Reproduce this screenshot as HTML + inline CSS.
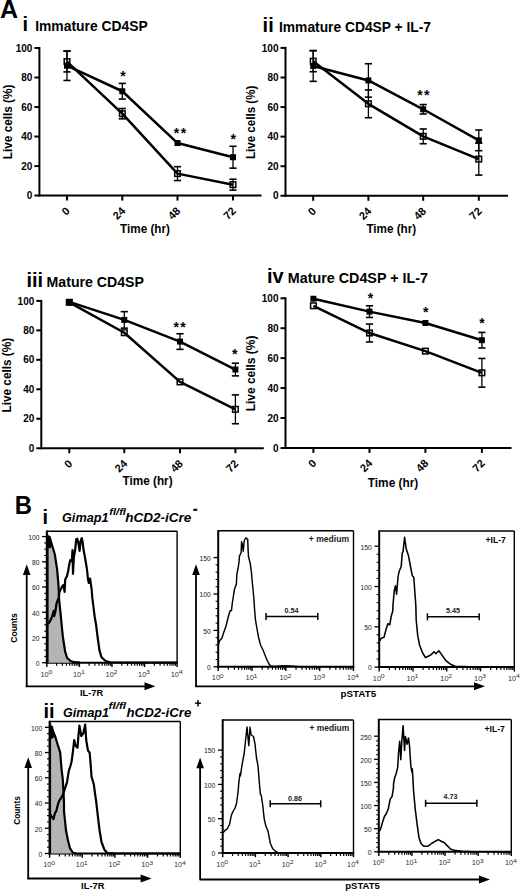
<!DOCTYPE html>
<html><head><meta charset="utf-8"><style>
html,body{margin:0;padding:0;background:#fff;overflow:hidden;}
svg{display:block;}
text{font-family:"Liberation Sans",sans-serif;}
</style></head><body>
<svg width="520" height="892" viewBox="0 0 520 892">
<rect width="520" height="892" fill="#fff"/>
<g font-family="Liberation Sans, sans-serif">
<text x="0.00" y="17.50" font-size="25" font-weight="bold">A</text>
<line x1="39.40" y1="47.00" x2="39.40" y2="196.60" stroke="#000" stroke-width="2" stroke-linecap="butt"/>
<line x1="34.40" y1="195.60" x2="261.50" y2="195.60" stroke="#000" stroke-width="2" stroke-linecap="butt"/>
<text x="32.40" y="199.20" font-size="10" font-weight="bold" text-anchor="end">0</text>
<line x1="34.40" y1="166.08" x2="39.40" y2="166.08" stroke="#000" stroke-width="2" stroke-linecap="butt"/>
<text x="32.40" y="169.68" font-size="10" font-weight="bold" text-anchor="end">20</text>
<line x1="34.40" y1="136.56" x2="39.40" y2="136.56" stroke="#000" stroke-width="2" stroke-linecap="butt"/>
<text x="32.40" y="140.16" font-size="10" font-weight="bold" text-anchor="end">40</text>
<line x1="34.40" y1="107.04" x2="39.40" y2="107.04" stroke="#000" stroke-width="2" stroke-linecap="butt"/>
<text x="32.40" y="110.64" font-size="10" font-weight="bold" text-anchor="end">60</text>
<line x1="34.40" y1="77.52" x2="39.40" y2="77.52" stroke="#000" stroke-width="2" stroke-linecap="butt"/>
<text x="32.40" y="81.12" font-size="10" font-weight="bold" text-anchor="end">80</text>
<line x1="34.40" y1="48.00" x2="39.40" y2="48.00" stroke="#000" stroke-width="2" stroke-linecap="butt"/>
<text x="32.40" y="51.60" font-size="10" font-weight="bold" text-anchor="end">100</text>
<line x1="67.00" y1="195.60" x2="67.00" y2="200.60" stroke="#000" stroke-width="2" stroke-linecap="butt"/>
<text x="0" y="0" font-size="11" font-weight="bold" text-anchor="end" transform="translate(70.70,211.70) rotate(-45)">0</text>
<line x1="122.30" y1="195.60" x2="122.30" y2="200.60" stroke="#000" stroke-width="2" stroke-linecap="butt"/>
<text x="0" y="0" font-size="11" font-weight="bold" text-anchor="end" transform="translate(126.00,211.70) rotate(-45)">24</text>
<line x1="177.50" y1="195.60" x2="177.50" y2="200.60" stroke="#000" stroke-width="2" stroke-linecap="butt"/>
<text x="0" y="0" font-size="11" font-weight="bold" text-anchor="end" transform="translate(181.20,211.70) rotate(-45)">48</text>
<line x1="233.00" y1="195.60" x2="233.00" y2="200.60" stroke="#000" stroke-width="2" stroke-linecap="butt"/>
<text x="0" y="0" font-size="11" font-weight="bold" text-anchor="end" transform="translate(236.70,211.70) rotate(-45)">72</text>
<path d="M67.00,65.71 L122.30,91.25 L177.50,143.05 L233.00,157.22" stroke="#000" stroke-width="2.5" fill="none" stroke-linejoin="round"/>
<path d="M67.00,61.58 L122.30,113.68 L177.50,173.61 L233.00,184.68" stroke="#000" stroke-width="2.5" fill="none" stroke-linejoin="round"/>
<line x1="67.00" y1="50.95" x2="67.00" y2="80.47" stroke="#000" stroke-width="1.3" stroke-linecap="butt"/>
<line x1="63.40" y1="50.95" x2="70.60" y2="50.95" stroke="#000" stroke-width="1.6" stroke-linecap="butt"/>
<line x1="63.40" y1="80.47" x2="70.60" y2="80.47" stroke="#000" stroke-width="1.6" stroke-linecap="butt"/>
<line x1="122.30" y1="83.42" x2="122.30" y2="99.07" stroke="#000" stroke-width="1.3" stroke-linecap="butt"/>
<line x1="118.70" y1="83.42" x2="125.90" y2="83.42" stroke="#000" stroke-width="1.6" stroke-linecap="butt"/>
<line x1="118.70" y1="99.07" x2="125.90" y2="99.07" stroke="#000" stroke-width="1.6" stroke-linecap="butt"/>
<line x1="233.00" y1="146.30" x2="233.00" y2="168.15" stroke="#000" stroke-width="1.3" stroke-linecap="butt"/>
<line x1="229.40" y1="146.30" x2="236.60" y2="146.30" stroke="#000" stroke-width="1.6" stroke-linecap="butt"/>
<line x1="229.40" y1="168.15" x2="236.60" y2="168.15" stroke="#000" stroke-width="1.6" stroke-linecap="butt"/>
<line x1="67.00" y1="51.25" x2="67.00" y2="71.91" stroke="#000" stroke-width="1.3" stroke-linecap="butt"/>
<line x1="63.40" y1="51.25" x2="70.60" y2="51.25" stroke="#000" stroke-width="1.6" stroke-linecap="butt"/>
<line x1="63.40" y1="71.91" x2="70.60" y2="71.91" stroke="#000" stroke-width="1.6" stroke-linecap="butt"/>
<line x1="122.30" y1="108.52" x2="122.30" y2="118.85" stroke="#000" stroke-width="1.3" stroke-linecap="butt"/>
<line x1="118.70" y1="108.52" x2="125.90" y2="108.52" stroke="#000" stroke-width="1.6" stroke-linecap="butt"/>
<line x1="118.70" y1="118.85" x2="125.90" y2="118.85" stroke="#000" stroke-width="1.6" stroke-linecap="butt"/>
<line x1="177.50" y1="166.67" x2="177.50" y2="180.54" stroke="#000" stroke-width="1.3" stroke-linecap="butt"/>
<line x1="173.90" y1="166.67" x2="181.10" y2="166.67" stroke="#000" stroke-width="1.6" stroke-linecap="butt"/>
<line x1="173.90" y1="180.54" x2="181.10" y2="180.54" stroke="#000" stroke-width="1.6" stroke-linecap="butt"/>
<line x1="233.00" y1="179.22" x2="233.00" y2="190.14" stroke="#000" stroke-width="1.3" stroke-linecap="butt"/>
<line x1="229.40" y1="179.22" x2="236.60" y2="179.22" stroke="#000" stroke-width="1.6" stroke-linecap="butt"/>
<line x1="229.40" y1="190.14" x2="236.60" y2="190.14" stroke="#000" stroke-width="1.6" stroke-linecap="butt"/>
<rect x="64.00" y="62.71" width="6" height="6" fill="#000"/>
<rect x="119.30" y="88.25" width="6" height="6" fill="#000"/>
<rect x="174.50" y="140.05" width="6" height="6" fill="#000"/>
<rect x="230.00" y="154.22" width="6" height="6" fill="#000"/>
<rect x="64.20" y="58.78" width="5.6" height="5.6" fill="none" stroke="#000" stroke-width="1.5"/>
<rect x="119.50" y="110.88" width="5.6" height="5.6" fill="none" stroke="#000" stroke-width="1.5"/>
<rect x="174.70" y="170.81" width="5.6" height="5.6" fill="none" stroke="#000" stroke-width="1.5"/>
<rect x="230.20" y="181.88" width="5.6" height="5.6" fill="none" stroke="#000" stroke-width="1.5"/>
<text x="123.10" y="81.00" font-size="14" font-weight="bold" text-anchor="middle">*</text>
<text x="176.60" y="138.20" font-size="14" font-weight="bold" text-anchor="middle">*</text>
<text x="183.40" y="138.20" font-size="14" font-weight="bold" text-anchor="middle">*</text>
<text x="233.20" y="143.60" font-size="14" font-weight="bold" text-anchor="middle">*</text>
<text x="0" y="0" font-size="12" font-weight="bold" text-anchor="middle" textLength="74.5" lengthAdjust="spacingAndGlyphs" transform="translate(11.80,121.90) rotate(-90)">Live cells (%)</text>
<text x="120.10" y="232.50" font-size="12" font-weight="bold" textLength="49.8" lengthAdjust="spacingAndGlyphs">Time (hr)</text>
<text x="22.60" y="30.90" font-size="20" font-weight="bold">i</text>
<text x="35.20" y="30.70" font-size="13.8" font-weight="bold" textLength="112.5" lengthAdjust="spacingAndGlyphs">Immature CD4SP</text>
<line x1="285.50" y1="46.90" x2="285.50" y2="196.80" stroke="#000" stroke-width="2" stroke-linecap="butt"/>
<line x1="280.50" y1="195.80" x2="508.00" y2="195.80" stroke="#000" stroke-width="2" stroke-linecap="butt"/>
<text x="278.50" y="199.40" font-size="10" font-weight="bold" text-anchor="end">0</text>
<line x1="280.50" y1="166.22" x2="285.50" y2="166.22" stroke="#000" stroke-width="2" stroke-linecap="butt"/>
<text x="278.50" y="169.82" font-size="10" font-weight="bold" text-anchor="end">20</text>
<line x1="280.50" y1="136.64" x2="285.50" y2="136.64" stroke="#000" stroke-width="2" stroke-linecap="butt"/>
<text x="278.50" y="140.24" font-size="10" font-weight="bold" text-anchor="end">40</text>
<line x1="280.50" y1="107.06" x2="285.50" y2="107.06" stroke="#000" stroke-width="2" stroke-linecap="butt"/>
<text x="278.50" y="110.66" font-size="10" font-weight="bold" text-anchor="end">60</text>
<line x1="280.50" y1="77.48" x2="285.50" y2="77.48" stroke="#000" stroke-width="2" stroke-linecap="butt"/>
<text x="278.50" y="81.08" font-size="10" font-weight="bold" text-anchor="end">80</text>
<line x1="280.50" y1="47.90" x2="285.50" y2="47.90" stroke="#000" stroke-width="2" stroke-linecap="butt"/>
<text x="278.50" y="51.50" font-size="10" font-weight="bold" text-anchor="end">100</text>
<line x1="313.20" y1="195.80" x2="313.20" y2="200.80" stroke="#000" stroke-width="2" stroke-linecap="butt"/>
<text x="0" y="0" font-size="11" font-weight="bold" text-anchor="end" transform="translate(316.90,211.90) rotate(-45)">0</text>
<line x1="368.40" y1="195.80" x2="368.40" y2="200.80" stroke="#000" stroke-width="2" stroke-linecap="butt"/>
<text x="0" y="0" font-size="11" font-weight="bold" text-anchor="end" transform="translate(372.10,211.90) rotate(-45)">24</text>
<line x1="423.20" y1="195.80" x2="423.20" y2="200.80" stroke="#000" stroke-width="2" stroke-linecap="butt"/>
<text x="0" y="0" font-size="11" font-weight="bold" text-anchor="end" transform="translate(426.90,211.90) rotate(-45)">48</text>
<line x1="478.80" y1="195.80" x2="478.80" y2="200.80" stroke="#000" stroke-width="2" stroke-linecap="butt"/>
<text x="0" y="0" font-size="11" font-weight="bold" text-anchor="end" transform="translate(482.50,211.90) rotate(-45)">72</text>
<path d="M313.20,65.94 L368.40,80.44 L423.20,109.28 L478.80,140.34" stroke="#000" stroke-width="2.5" fill="none" stroke-linejoin="round"/>
<path d="M313.20,61.21 L368.40,103.81 L423.20,136.34 L478.80,159.12" stroke="#000" stroke-width="2.5" fill="none" stroke-linejoin="round"/>
<line x1="313.20" y1="50.56" x2="313.20" y2="81.33" stroke="#000" stroke-width="1.3" stroke-linecap="butt"/>
<line x1="309.60" y1="50.56" x2="316.80" y2="50.56" stroke="#000" stroke-width="1.6" stroke-linecap="butt"/>
<line x1="309.60" y1="81.33" x2="316.80" y2="81.33" stroke="#000" stroke-width="1.6" stroke-linecap="butt"/>
<line x1="368.40" y1="63.73" x2="368.40" y2="97.15" stroke="#000" stroke-width="1.3" stroke-linecap="butt"/>
<line x1="364.80" y1="63.73" x2="372.00" y2="63.73" stroke="#000" stroke-width="1.6" stroke-linecap="butt"/>
<line x1="364.80" y1="97.15" x2="372.00" y2="97.15" stroke="#000" stroke-width="1.6" stroke-linecap="butt"/>
<line x1="423.20" y1="104.55" x2="423.20" y2="114.01" stroke="#000" stroke-width="1.3" stroke-linecap="butt"/>
<line x1="419.60" y1="104.55" x2="426.80" y2="104.55" stroke="#000" stroke-width="1.6" stroke-linecap="butt"/>
<line x1="419.60" y1="114.01" x2="426.80" y2="114.01" stroke="#000" stroke-width="1.6" stroke-linecap="butt"/>
<line x1="478.80" y1="129.98" x2="478.80" y2="150.69" stroke="#000" stroke-width="1.3" stroke-linecap="butt"/>
<line x1="475.20" y1="129.98" x2="482.40" y2="129.98" stroke="#000" stroke-width="1.6" stroke-linecap="butt"/>
<line x1="475.20" y1="150.69" x2="482.40" y2="150.69" stroke="#000" stroke-width="1.6" stroke-linecap="butt"/>
<line x1="313.20" y1="50.71" x2="313.20" y2="71.71" stroke="#000" stroke-width="1.3" stroke-linecap="butt"/>
<line x1="309.60" y1="50.71" x2="316.80" y2="50.71" stroke="#000" stroke-width="1.6" stroke-linecap="butt"/>
<line x1="309.60" y1="71.71" x2="316.80" y2="71.71" stroke="#000" stroke-width="1.6" stroke-linecap="butt"/>
<line x1="368.40" y1="89.90" x2="368.40" y2="117.71" stroke="#000" stroke-width="1.3" stroke-linecap="butt"/>
<line x1="364.80" y1="89.90" x2="372.00" y2="89.90" stroke="#000" stroke-width="1.6" stroke-linecap="butt"/>
<line x1="364.80" y1="117.71" x2="372.00" y2="117.71" stroke="#000" stroke-width="1.6" stroke-linecap="butt"/>
<line x1="423.20" y1="128.95" x2="423.20" y2="143.74" stroke="#000" stroke-width="1.3" stroke-linecap="butt"/>
<line x1="419.60" y1="128.95" x2="426.80" y2="128.95" stroke="#000" stroke-width="1.6" stroke-linecap="butt"/>
<line x1="419.60" y1="143.74" x2="426.80" y2="143.74" stroke="#000" stroke-width="1.6" stroke-linecap="butt"/>
<line x1="478.80" y1="143.15" x2="478.80" y2="175.09" stroke="#000" stroke-width="1.3" stroke-linecap="butt"/>
<line x1="475.20" y1="143.15" x2="482.40" y2="143.15" stroke="#000" stroke-width="1.6" stroke-linecap="butt"/>
<line x1="475.20" y1="175.09" x2="482.40" y2="175.09" stroke="#000" stroke-width="1.6" stroke-linecap="butt"/>
<rect x="310.20" y="62.94" width="6" height="6" fill="#000"/>
<rect x="365.40" y="77.44" width="6" height="6" fill="#000"/>
<rect x="420.20" y="106.28" width="6" height="6" fill="#000"/>
<rect x="475.80" y="137.34" width="6" height="6" fill="#000"/>
<rect x="310.40" y="58.41" width="5.6" height="5.6" fill="none" stroke="#000" stroke-width="1.5"/>
<rect x="365.60" y="101.01" width="5.6" height="5.6" fill="none" stroke="#000" stroke-width="1.5"/>
<rect x="420.40" y="133.54" width="5.6" height="5.6" fill="none" stroke="#000" stroke-width="1.5"/>
<rect x="476.00" y="156.32" width="5.6" height="5.6" fill="none" stroke="#000" stroke-width="1.5"/>
<text x="420.00" y="100.40" font-size="14" font-weight="bold" text-anchor="middle">*</text>
<text x="426.80" y="100.40" font-size="14" font-weight="bold" text-anchor="middle">*</text>
<text x="0" y="0" font-size="12" font-weight="bold" text-anchor="middle" textLength="73.4" lengthAdjust="spacingAndGlyphs" transform="translate(255.10,122.40) rotate(-90)">Live cells (%)</text>
<text x="366.40" y="232.90" font-size="12" font-weight="bold" textLength="49.8" lengthAdjust="spacingAndGlyphs">Time (hr)</text>
<text x="262.60" y="32.40" font-size="20" font-weight="bold">ii</text>
<text x="279.00" y="32.30" font-size="13.8" font-weight="bold" textLength="152" lengthAdjust="spacingAndGlyphs">Immature CD4SP + IL-7</text>
<line x1="41.30" y1="299.90" x2="41.30" y2="449.20" stroke="#000" stroke-width="2" stroke-linecap="butt"/>
<line x1="36.30" y1="448.20" x2="263.80" y2="448.20" stroke="#000" stroke-width="2" stroke-linecap="butt"/>
<text x="34.30" y="451.80" font-size="10" font-weight="bold" text-anchor="end">0</text>
<line x1="36.30" y1="418.74" x2="41.30" y2="418.74" stroke="#000" stroke-width="2" stroke-linecap="butt"/>
<text x="34.30" y="422.34" font-size="10" font-weight="bold" text-anchor="end">20</text>
<line x1="36.30" y1="389.28" x2="41.30" y2="389.28" stroke="#000" stroke-width="2" stroke-linecap="butt"/>
<text x="34.30" y="392.88" font-size="10" font-weight="bold" text-anchor="end">40</text>
<line x1="36.30" y1="359.82" x2="41.30" y2="359.82" stroke="#000" stroke-width="2" stroke-linecap="butt"/>
<text x="34.30" y="363.42" font-size="10" font-weight="bold" text-anchor="end">60</text>
<line x1="36.30" y1="330.36" x2="41.30" y2="330.36" stroke="#000" stroke-width="2" stroke-linecap="butt"/>
<text x="34.30" y="333.96" font-size="10" font-weight="bold" text-anchor="end">80</text>
<line x1="36.30" y1="300.90" x2="41.30" y2="300.90" stroke="#000" stroke-width="2" stroke-linecap="butt"/>
<text x="34.30" y="304.50" font-size="10" font-weight="bold" text-anchor="end">100</text>
<line x1="69.30" y1="448.20" x2="69.30" y2="453.20" stroke="#000" stroke-width="2" stroke-linecap="butt"/>
<text x="0" y="0" font-size="11" font-weight="bold" text-anchor="end" transform="translate(73.00,464.30) rotate(-45)">0</text>
<line x1="124.30" y1="448.20" x2="124.30" y2="453.20" stroke="#000" stroke-width="2" stroke-linecap="butt"/>
<text x="0" y="0" font-size="11" font-weight="bold" text-anchor="end" transform="translate(128.00,464.30) rotate(-45)">24</text>
<line x1="180.00" y1="448.20" x2="180.00" y2="453.20" stroke="#000" stroke-width="2" stroke-linecap="butt"/>
<text x="0" y="0" font-size="11" font-weight="bold" text-anchor="end" transform="translate(183.70,464.30) rotate(-45)">48</text>
<line x1="235.40" y1="448.20" x2="235.40" y2="453.20" stroke="#000" stroke-width="2" stroke-linecap="butt"/>
<text x="0" y="0" font-size="11" font-weight="bold" text-anchor="end" transform="translate(239.10,464.30) rotate(-45)">72</text>
<path d="M69.30,301.93 L124.30,319.90 L180.00,341.55 L235.40,369.54" stroke="#000" stroke-width="2.5" fill="none" stroke-linejoin="round"/>
<path d="M69.30,302.37 L124.30,332.72 L180.00,381.91 L235.40,409.31" stroke="#000" stroke-width="2.5" fill="none" stroke-linejoin="round"/>
<line x1="124.30" y1="311.65" x2="124.30" y2="328.15" stroke="#000" stroke-width="1.3" stroke-linecap="butt"/>
<line x1="120.70" y1="311.65" x2="127.90" y2="311.65" stroke="#000" stroke-width="1.6" stroke-linecap="butt"/>
<line x1="120.70" y1="328.15" x2="127.90" y2="328.15" stroke="#000" stroke-width="1.6" stroke-linecap="butt"/>
<line x1="180.00" y1="333.75" x2="180.00" y2="349.36" stroke="#000" stroke-width="1.3" stroke-linecap="butt"/>
<line x1="176.40" y1="333.75" x2="183.60" y2="333.75" stroke="#000" stroke-width="1.6" stroke-linecap="butt"/>
<line x1="176.40" y1="349.36" x2="183.60" y2="349.36" stroke="#000" stroke-width="1.6" stroke-linecap="butt"/>
<line x1="235.40" y1="363.21" x2="235.40" y2="375.88" stroke="#000" stroke-width="1.3" stroke-linecap="butt"/>
<line x1="231.80" y1="363.21" x2="239.00" y2="363.21" stroke="#000" stroke-width="1.6" stroke-linecap="butt"/>
<line x1="231.80" y1="375.88" x2="239.00" y2="375.88" stroke="#000" stroke-width="1.6" stroke-linecap="butt"/>
<line x1="235.40" y1="394.88" x2="235.40" y2="423.75" stroke="#000" stroke-width="1.3" stroke-linecap="butt"/>
<line x1="231.80" y1="394.88" x2="239.00" y2="394.88" stroke="#000" stroke-width="1.6" stroke-linecap="butt"/>
<line x1="231.80" y1="423.75" x2="239.00" y2="423.75" stroke="#000" stroke-width="1.6" stroke-linecap="butt"/>
<rect x="66.30" y="298.93" width="6" height="6" fill="#000"/>
<rect x="121.30" y="316.90" width="6" height="6" fill="#000"/>
<rect x="177.00" y="338.55" width="6" height="6" fill="#000"/>
<rect x="232.40" y="366.54" width="6" height="6" fill="#000"/>
<rect x="66.50" y="299.57" width="5.6" height="5.6" fill="none" stroke="#000" stroke-width="1.5"/>
<rect x="121.50" y="329.92" width="5.6" height="5.6" fill="none" stroke="#000" stroke-width="1.5"/>
<rect x="177.20" y="379.11" width="5.6" height="5.6" fill="none" stroke="#000" stroke-width="1.5"/>
<rect x="232.60" y="406.51" width="5.6" height="5.6" fill="none" stroke="#000" stroke-width="1.5"/>
<text x="176.20" y="332.30" font-size="14" font-weight="bold" text-anchor="middle">*</text>
<text x="183.00" y="332.30" font-size="14" font-weight="bold" text-anchor="middle">*</text>
<text x="234.80" y="359.10" font-size="14" font-weight="bold" text-anchor="middle">*</text>
<text x="0" y="0" font-size="12" font-weight="bold" text-anchor="middle" textLength="74.6" lengthAdjust="spacingAndGlyphs" transform="translate(11.20,375.20) rotate(-90)">Live cells (%)</text>
<text x="122.40" y="485.20" font-size="12" font-weight="bold" textLength="50.2" lengthAdjust="spacingAndGlyphs">Time (hr)</text>
<text x="26.40" y="287.00" font-size="20" font-weight="bold">iii</text>
<text x="46.60" y="286.90" font-size="13.8" font-weight="bold" textLength="97.3" lengthAdjust="spacingAndGlyphs">Mature CD4SP</text>
<line x1="285.50" y1="297.30" x2="285.50" y2="448.90" stroke="#000" stroke-width="2" stroke-linecap="butt"/>
<line x1="280.50" y1="447.90" x2="511.50" y2="447.90" stroke="#000" stroke-width="2" stroke-linecap="butt"/>
<text x="278.50" y="451.50" font-size="10" font-weight="bold" text-anchor="end">0</text>
<line x1="280.50" y1="417.98" x2="285.50" y2="417.98" stroke="#000" stroke-width="2" stroke-linecap="butt"/>
<text x="278.50" y="421.58" font-size="10" font-weight="bold" text-anchor="end">20</text>
<line x1="280.50" y1="388.06" x2="285.50" y2="388.06" stroke="#000" stroke-width="2" stroke-linecap="butt"/>
<text x="278.50" y="391.66" font-size="10" font-weight="bold" text-anchor="end">40</text>
<line x1="280.50" y1="358.14" x2="285.50" y2="358.14" stroke="#000" stroke-width="2" stroke-linecap="butt"/>
<text x="278.50" y="361.74" font-size="10" font-weight="bold" text-anchor="end">60</text>
<line x1="280.50" y1="328.22" x2="285.50" y2="328.22" stroke="#000" stroke-width="2" stroke-linecap="butt"/>
<text x="278.50" y="331.82" font-size="10" font-weight="bold" text-anchor="end">80</text>
<line x1="280.50" y1="298.30" x2="285.50" y2="298.30" stroke="#000" stroke-width="2" stroke-linecap="butt"/>
<text x="278.50" y="301.90" font-size="10" font-weight="bold" text-anchor="end">100</text>
<line x1="313.40" y1="447.90" x2="313.40" y2="452.90" stroke="#000" stroke-width="2" stroke-linecap="butt"/>
<text x="0" y="0" font-size="11" font-weight="bold" text-anchor="end" transform="translate(317.10,464.00) rotate(-45)">0</text>
<line x1="369.50" y1="447.90" x2="369.50" y2="452.90" stroke="#000" stroke-width="2" stroke-linecap="butt"/>
<text x="0" y="0" font-size="11" font-weight="bold" text-anchor="end" transform="translate(373.20,464.00) rotate(-45)">24</text>
<line x1="425.40" y1="447.90" x2="425.40" y2="452.90" stroke="#000" stroke-width="2" stroke-linecap="butt"/>
<text x="0" y="0" font-size="11" font-weight="bold" text-anchor="end" transform="translate(429.10,464.00) rotate(-45)">48</text>
<line x1="481.90" y1="447.90" x2="481.90" y2="452.90" stroke="#000" stroke-width="2" stroke-linecap="butt"/>
<text x="0" y="0" font-size="11" font-weight="bold" text-anchor="end" transform="translate(485.60,464.00) rotate(-45)">72</text>
<path d="M313.40,298.75 L369.50,311.61 L425.40,322.98 L481.90,340.19" stroke="#000" stroke-width="2.5" fill="none" stroke-linejoin="round"/>
<path d="M313.40,305.78 L369.50,333.01 L425.40,351.11 L481.90,372.80" stroke="#000" stroke-width="2.5" fill="none" stroke-linejoin="round"/>
<line x1="369.50" y1="305.78" x2="369.50" y2="317.45" stroke="#000" stroke-width="1.3" stroke-linecap="butt"/>
<line x1="365.90" y1="305.78" x2="373.10" y2="305.78" stroke="#000" stroke-width="1.6" stroke-linecap="butt"/>
<line x1="365.90" y1="317.45" x2="373.10" y2="317.45" stroke="#000" stroke-width="1.6" stroke-linecap="butt"/>
<line x1="481.90" y1="332.41" x2="481.90" y2="347.97" stroke="#000" stroke-width="1.3" stroke-linecap="butt"/>
<line x1="478.30" y1="332.41" x2="485.50" y2="332.41" stroke="#000" stroke-width="1.6" stroke-linecap="butt"/>
<line x1="478.30" y1="347.97" x2="485.50" y2="347.97" stroke="#000" stroke-width="1.6" stroke-linecap="butt"/>
<line x1="369.50" y1="324.03" x2="369.50" y2="341.98" stroke="#000" stroke-width="1.3" stroke-linecap="butt"/>
<line x1="365.90" y1="324.03" x2="373.10" y2="324.03" stroke="#000" stroke-width="1.6" stroke-linecap="butt"/>
<line x1="365.90" y1="341.98" x2="373.10" y2="341.98" stroke="#000" stroke-width="1.6" stroke-linecap="butt"/>
<line x1="481.90" y1="358.44" x2="481.90" y2="387.16" stroke="#000" stroke-width="1.3" stroke-linecap="butt"/>
<line x1="478.30" y1="358.44" x2="485.50" y2="358.44" stroke="#000" stroke-width="1.6" stroke-linecap="butt"/>
<line x1="478.30" y1="387.16" x2="485.50" y2="387.16" stroke="#000" stroke-width="1.6" stroke-linecap="butt"/>
<rect x="310.40" y="295.75" width="6" height="6" fill="#000"/>
<rect x="366.50" y="308.61" width="6" height="6" fill="#000"/>
<rect x="422.40" y="319.98" width="6" height="6" fill="#000"/>
<rect x="478.90" y="337.19" width="6" height="6" fill="#000"/>
<rect x="310.60" y="302.98" width="5.6" height="5.6" fill="none" stroke="#000" stroke-width="1.5"/>
<rect x="366.70" y="330.21" width="5.6" height="5.6" fill="none" stroke="#000" stroke-width="1.5"/>
<rect x="422.60" y="348.31" width="5.6" height="5.6" fill="none" stroke="#000" stroke-width="1.5"/>
<rect x="479.10" y="370.00" width="5.6" height="5.6" fill="none" stroke="#000" stroke-width="1.5"/>
<text x="370.60" y="302.80" font-size="14" font-weight="bold" text-anchor="middle">*</text>
<text x="425.80" y="317.20" font-size="14" font-weight="bold" text-anchor="middle">*</text>
<text x="482.00" y="328.40" font-size="14" font-weight="bold" text-anchor="middle">*</text>
<text x="0" y="0" font-size="12" font-weight="bold" text-anchor="middle" textLength="75.7" lengthAdjust="spacingAndGlyphs" transform="translate(254.60,373.50) rotate(-90)">Live cells (%)</text>
<text x="367.80" y="486.50" font-size="12" font-weight="bold" textLength="50.5" lengthAdjust="spacingAndGlyphs">Time (hr)</text>
<text x="266.90" y="283.00" font-size="20" font-weight="bold">iv</text>
<text x="287.80" y="282.90" font-size="13.8" font-weight="bold" textLength="140.2" lengthAdjust="spacingAndGlyphs">Mature CD4SP + IL-7</text>
<text x="14.80" y="513.50" font-size="26" font-weight="bold" textLength="17.2" lengthAdjust="spacingAndGlyphs">B</text>
<line x1="46.80" y1="531.20" x2="177.10" y2="531.20" stroke="#000" stroke-width="1.4" stroke-linecap="butt"/>
<line x1="177.10" y1="531.20" x2="177.10" y2="662.70" stroke="#000" stroke-width="1.4" stroke-linecap="butt"/>
<line x1="46.80" y1="530.50" x2="46.80" y2="663.70" stroke="#000" stroke-width="2" stroke-linecap="butt"/>
<line x1="45.80" y1="662.70" x2="177.80" y2="662.70" stroke="#000" stroke-width="2" stroke-linecap="butt"/>
<line x1="42.10" y1="662.70" x2="46.80" y2="662.70" stroke="#000" stroke-width="1.3" stroke-linecap="butt"/>
<text x="39.50" y="666.00" font-size="6.8" font-weight="normal" text-anchor="end" fill="#222">0</text>
<line x1="42.10" y1="637.48" x2="46.80" y2="637.48" stroke="#000" stroke-width="1.3" stroke-linecap="butt"/>
<text x="39.50" y="640.78" font-size="6.8" font-weight="normal" text-anchor="end" fill="#222">20</text>
<line x1="42.10" y1="612.26" x2="46.80" y2="612.26" stroke="#000" stroke-width="1.3" stroke-linecap="butt"/>
<text x="39.50" y="615.56" font-size="6.8" font-weight="normal" text-anchor="end" fill="#222">40</text>
<line x1="42.10" y1="587.04" x2="46.80" y2="587.04" stroke="#000" stroke-width="1.3" stroke-linecap="butt"/>
<text x="39.50" y="590.34" font-size="6.8" font-weight="normal" text-anchor="end" fill="#222">60</text>
<line x1="42.10" y1="561.82" x2="46.80" y2="561.82" stroke="#000" stroke-width="1.3" stroke-linecap="butt"/>
<text x="39.50" y="565.12" font-size="6.8" font-weight="normal" text-anchor="end" fill="#222">80</text>
<line x1="42.10" y1="536.60" x2="46.80" y2="536.60" stroke="#000" stroke-width="1.3" stroke-linecap="butt"/>
<text x="39.50" y="539.90" font-size="6.8" font-weight="normal" text-anchor="end" fill="#222">100</text>
<line x1="44.20" y1="656.40" x2="46.80" y2="656.40" stroke="#000" stroke-width="1.1" stroke-linecap="butt"/>
<line x1="44.20" y1="650.09" x2="46.80" y2="650.09" stroke="#000" stroke-width="1.1" stroke-linecap="butt"/>
<line x1="44.20" y1="643.79" x2="46.80" y2="643.79" stroke="#000" stroke-width="1.1" stroke-linecap="butt"/>
<line x1="44.20" y1="631.18" x2="46.80" y2="631.18" stroke="#000" stroke-width="1.1" stroke-linecap="butt"/>
<line x1="44.20" y1="624.87" x2="46.80" y2="624.87" stroke="#000" stroke-width="1.1" stroke-linecap="butt"/>
<line x1="44.20" y1="618.57" x2="46.80" y2="618.57" stroke="#000" stroke-width="1.1" stroke-linecap="butt"/>
<line x1="44.20" y1="605.96" x2="46.80" y2="605.96" stroke="#000" stroke-width="1.1" stroke-linecap="butt"/>
<line x1="44.20" y1="599.65" x2="46.80" y2="599.65" stroke="#000" stroke-width="1.1" stroke-linecap="butt"/>
<line x1="44.20" y1="593.35" x2="46.80" y2="593.35" stroke="#000" stroke-width="1.1" stroke-linecap="butt"/>
<line x1="44.20" y1="580.74" x2="46.80" y2="580.74" stroke="#000" stroke-width="1.1" stroke-linecap="butt"/>
<line x1="44.20" y1="574.43" x2="46.80" y2="574.43" stroke="#000" stroke-width="1.1" stroke-linecap="butt"/>
<line x1="44.20" y1="568.12" x2="46.80" y2="568.12" stroke="#000" stroke-width="1.1" stroke-linecap="butt"/>
<line x1="44.20" y1="555.52" x2="46.80" y2="555.52" stroke="#000" stroke-width="1.1" stroke-linecap="butt"/>
<line x1="44.20" y1="549.21" x2="46.80" y2="549.21" stroke="#000" stroke-width="1.1" stroke-linecap="butt"/>
<line x1="44.20" y1="542.91" x2="46.80" y2="542.91" stroke="#000" stroke-width="1.1" stroke-linecap="butt"/>
<line x1="46.80" y1="662.70" x2="46.80" y2="667.00" stroke="#000" stroke-width="1.4" stroke-linecap="butt"/>
<text x="40.40" y="676.50" font-size="6.4" fill="#333" textLength="8.2" lengthAdjust="spacingAndGlyphs">10</text>
<text x="48.40" y="674.00" font-size="5.3" fill="#333" textLength="3.9" lengthAdjust="spacingAndGlyphs">0</text>
<line x1="56.61" y1="662.70" x2="56.61" y2="665.70" stroke="#000" stroke-width="1.2" stroke-linecap="butt"/>
<line x1="62.34" y1="662.70" x2="62.34" y2="665.70" stroke="#000" stroke-width="1.2" stroke-linecap="butt"/>
<line x1="66.41" y1="662.70" x2="66.41" y2="665.70" stroke="#000" stroke-width="1.2" stroke-linecap="butt"/>
<line x1="69.57" y1="662.70" x2="69.57" y2="665.70" stroke="#000" stroke-width="1.2" stroke-linecap="butt"/>
<line x1="72.15" y1="662.70" x2="72.15" y2="665.70" stroke="#000" stroke-width="1.2" stroke-linecap="butt"/>
<line x1="74.33" y1="662.70" x2="74.33" y2="665.70" stroke="#000" stroke-width="1.2" stroke-linecap="butt"/>
<line x1="76.22" y1="662.70" x2="76.22" y2="665.70" stroke="#000" stroke-width="1.2" stroke-linecap="butt"/>
<line x1="77.88" y1="662.70" x2="77.88" y2="665.70" stroke="#000" stroke-width="1.2" stroke-linecap="butt"/>
<line x1="79.38" y1="662.70" x2="79.38" y2="667.00" stroke="#000" stroke-width="1.4" stroke-linecap="butt"/>
<text x="72.97" y="676.50" font-size="6.4" fill="#333" textLength="8.2" lengthAdjust="spacingAndGlyphs">10</text>
<text x="80.97" y="674.00" font-size="5.3" fill="#333" textLength="3.9" lengthAdjust="spacingAndGlyphs">1</text>
<line x1="89.18" y1="662.70" x2="89.18" y2="665.70" stroke="#000" stroke-width="1.2" stroke-linecap="butt"/>
<line x1="94.92" y1="662.70" x2="94.92" y2="665.70" stroke="#000" stroke-width="1.2" stroke-linecap="butt"/>
<line x1="98.99" y1="662.70" x2="98.99" y2="665.70" stroke="#000" stroke-width="1.2" stroke-linecap="butt"/>
<line x1="102.14" y1="662.70" x2="102.14" y2="665.70" stroke="#000" stroke-width="1.2" stroke-linecap="butt"/>
<line x1="104.72" y1="662.70" x2="104.72" y2="665.70" stroke="#000" stroke-width="1.2" stroke-linecap="butt"/>
<line x1="106.90" y1="662.70" x2="106.90" y2="665.70" stroke="#000" stroke-width="1.2" stroke-linecap="butt"/>
<line x1="108.79" y1="662.70" x2="108.79" y2="665.70" stroke="#000" stroke-width="1.2" stroke-linecap="butt"/>
<line x1="110.46" y1="662.70" x2="110.46" y2="665.70" stroke="#000" stroke-width="1.2" stroke-linecap="butt"/>
<line x1="111.95" y1="662.70" x2="111.95" y2="667.00" stroke="#000" stroke-width="1.4" stroke-linecap="butt"/>
<text x="105.55" y="676.50" font-size="6.4" fill="#333" textLength="8.2" lengthAdjust="spacingAndGlyphs">10</text>
<text x="113.55" y="674.00" font-size="5.3" fill="#333" textLength="3.9" lengthAdjust="spacingAndGlyphs">2</text>
<line x1="121.76" y1="662.70" x2="121.76" y2="665.70" stroke="#000" stroke-width="1.2" stroke-linecap="butt"/>
<line x1="127.49" y1="662.70" x2="127.49" y2="665.70" stroke="#000" stroke-width="1.2" stroke-linecap="butt"/>
<line x1="131.56" y1="662.70" x2="131.56" y2="665.70" stroke="#000" stroke-width="1.2" stroke-linecap="butt"/>
<line x1="134.72" y1="662.70" x2="134.72" y2="665.70" stroke="#000" stroke-width="1.2" stroke-linecap="butt"/>
<line x1="137.30" y1="662.70" x2="137.30" y2="665.70" stroke="#000" stroke-width="1.2" stroke-linecap="butt"/>
<line x1="139.48" y1="662.70" x2="139.48" y2="665.70" stroke="#000" stroke-width="1.2" stroke-linecap="butt"/>
<line x1="141.37" y1="662.70" x2="141.37" y2="665.70" stroke="#000" stroke-width="1.2" stroke-linecap="butt"/>
<line x1="143.03" y1="662.70" x2="143.03" y2="665.70" stroke="#000" stroke-width="1.2" stroke-linecap="butt"/>
<line x1="144.53" y1="662.70" x2="144.53" y2="667.00" stroke="#000" stroke-width="1.4" stroke-linecap="butt"/>
<text x="138.13" y="676.50" font-size="6.4" fill="#333" textLength="8.2" lengthAdjust="spacingAndGlyphs">10</text>
<text x="146.13" y="674.00" font-size="5.3" fill="#333" textLength="3.9" lengthAdjust="spacingAndGlyphs">3</text>
<line x1="154.33" y1="662.70" x2="154.33" y2="665.70" stroke="#000" stroke-width="1.2" stroke-linecap="butt"/>
<line x1="160.07" y1="662.70" x2="160.07" y2="665.70" stroke="#000" stroke-width="1.2" stroke-linecap="butt"/>
<line x1="164.14" y1="662.70" x2="164.14" y2="665.70" stroke="#000" stroke-width="1.2" stroke-linecap="butt"/>
<line x1="167.29" y1="662.70" x2="167.29" y2="665.70" stroke="#000" stroke-width="1.2" stroke-linecap="butt"/>
<line x1="169.87" y1="662.70" x2="169.87" y2="665.70" stroke="#000" stroke-width="1.2" stroke-linecap="butt"/>
<line x1="172.05" y1="662.70" x2="172.05" y2="665.70" stroke="#000" stroke-width="1.2" stroke-linecap="butt"/>
<line x1="173.94" y1="662.70" x2="173.94" y2="665.70" stroke="#000" stroke-width="1.2" stroke-linecap="butt"/>
<line x1="175.61" y1="662.70" x2="175.61" y2="665.70" stroke="#000" stroke-width="1.2" stroke-linecap="butt"/>
<line x1="177.10" y1="662.70" x2="177.10" y2="667.00" stroke="#000" stroke-width="1.4" stroke-linecap="butt"/>
<text x="170.70" y="676.50" font-size="6.4" fill="#333" textLength="8.2" lengthAdjust="spacingAndGlyphs">10</text>
<text x="178.70" y="674.00" font-size="5.3" fill="#333" textLength="3.9" lengthAdjust="spacingAndGlyphs">4</text>
<path d="M47.50,662.70 L47.50,540.00 L48.50,537.00 L50.80,541.50 L53.10,548.50 L54.80,554.20 L56.00,562.30 L57.10,569.20 L57.70,576.20 L58.30,583.00 L58.80,590.00 L58.80,594.20 L59.40,602.30 L60.60,613.80 L61.70,625.40 L62.90,636.90 L63.50,641.00 L65.20,651.90 L67.20,658.00 L70.60,661.00 L74.00,662.20 L80.00,662.70" stroke="#000" stroke-width="2.2" fill="#b4b4b4" stroke-linejoin="round"/>
<path d="M47.90,624.20 L49.60,621.90 L51.30,618.50 L52.50,615.00 L53.70,611.00 L54.20,616.20 L55.40,611.50 L56.50,603.50 L57.70,600.00 L58.80,597.70 L59.40,591.90 L61.20,588.50 L62.30,586.00 L63.50,585.00 L64.60,591.90 L65.20,579.60 L66.90,576.20 L68.10,571.50 L69.20,564.60 L70.40,560.00 L71.80,561.20 L72.50,550.20 L73.00,573.80 L73.80,557.70 L75.20,549.60 L76.20,539.20 L77.30,538.70 L78.50,543.80 L79.60,550.80 L80.50,541.50 L81.70,538.10 L82.50,541.50 L83.70,550.80 L84.80,556.50 L86.00,563.50 L87.10,570.40 L87.90,578.50 L88.80,583.00 L90.00,578.50 L90.90,584.20 L91.70,590.00 L92.30,597.70 L94.60,616.20 L96.10,625.00 L97.80,638.50 L99.50,650.60 L101.50,657.30 L105.60,661.00 L110.00,662.30 L177.00,662.50" stroke="#000" stroke-width="2.2" fill="none" stroke-linejoin="round"/>
<path d="M47.50,533.00 L48.20,536.00 L49.30,535.80 L50.20,536.30 L50.90,538.50 L51.60,541.50 L52.20,545.00 L51.00,547.50 L49.00,548.00 L47.50,548.00 Z" stroke="#000" stroke-width="0.6" fill="#000" stroke-linejoin="round"/>
<line x1="218.20" y1="530.80" x2="353.50" y2="530.80" stroke="#000" stroke-width="1.4" stroke-linecap="butt"/>
<line x1="353.50" y1="530.80" x2="353.50" y2="666.80" stroke="#000" stroke-width="1.4" stroke-linecap="butt"/>
<line x1="218.20" y1="530.10" x2="218.20" y2="667.80" stroke="#000" stroke-width="2" stroke-linecap="butt"/>
<line x1="217.20" y1="666.80" x2="354.20" y2="666.80" stroke="#000" stroke-width="2" stroke-linecap="butt"/>
<line x1="213.50" y1="666.80" x2="218.20" y2="666.80" stroke="#000" stroke-width="1.3" stroke-linecap="butt"/>
<text x="210.90" y="670.10" font-size="6.8" font-weight="normal" text-anchor="end" fill="#222">0</text>
<line x1="213.50" y1="630.40" x2="218.20" y2="630.40" stroke="#000" stroke-width="1.3" stroke-linecap="butt"/>
<text x="210.90" y="633.70" font-size="6.8" font-weight="normal" text-anchor="end" fill="#222">50</text>
<line x1="213.50" y1="594.00" x2="218.20" y2="594.00" stroke="#000" stroke-width="1.3" stroke-linecap="butt"/>
<text x="210.90" y="597.30" font-size="6.8" font-weight="normal" text-anchor="end" fill="#222">100</text>
<line x1="213.50" y1="557.60" x2="218.20" y2="557.60" stroke="#000" stroke-width="1.3" stroke-linecap="butt"/>
<text x="210.90" y="560.90" font-size="6.8" font-weight="normal" text-anchor="end" fill="#222">150</text>
<line x1="215.60" y1="659.52" x2="218.20" y2="659.52" stroke="#000" stroke-width="1.1" stroke-linecap="butt"/>
<line x1="215.60" y1="652.24" x2="218.20" y2="652.24" stroke="#000" stroke-width="1.1" stroke-linecap="butt"/>
<line x1="215.60" y1="644.96" x2="218.20" y2="644.96" stroke="#000" stroke-width="1.1" stroke-linecap="butt"/>
<line x1="215.60" y1="637.68" x2="218.20" y2="637.68" stroke="#000" stroke-width="1.1" stroke-linecap="butt"/>
<line x1="215.60" y1="623.12" x2="218.20" y2="623.12" stroke="#000" stroke-width="1.1" stroke-linecap="butt"/>
<line x1="215.60" y1="615.84" x2="218.20" y2="615.84" stroke="#000" stroke-width="1.1" stroke-linecap="butt"/>
<line x1="215.60" y1="608.56" x2="218.20" y2="608.56" stroke="#000" stroke-width="1.1" stroke-linecap="butt"/>
<line x1="215.60" y1="601.28" x2="218.20" y2="601.28" stroke="#000" stroke-width="1.1" stroke-linecap="butt"/>
<line x1="215.60" y1="586.72" x2="218.20" y2="586.72" stroke="#000" stroke-width="1.1" stroke-linecap="butt"/>
<line x1="215.60" y1="579.44" x2="218.20" y2="579.44" stroke="#000" stroke-width="1.1" stroke-linecap="butt"/>
<line x1="215.60" y1="572.16" x2="218.20" y2="572.16" stroke="#000" stroke-width="1.1" stroke-linecap="butt"/>
<line x1="215.60" y1="564.88" x2="218.20" y2="564.88" stroke="#000" stroke-width="1.1" stroke-linecap="butt"/>
<line x1="218.20" y1="666.80" x2="218.20" y2="671.10" stroke="#000" stroke-width="1.4" stroke-linecap="butt"/>
<text x="211.80" y="680.20" font-size="6.4" fill="#333" textLength="8.2" lengthAdjust="spacingAndGlyphs">10</text>
<text x="219.80" y="677.70" font-size="5.3" fill="#333" textLength="3.9" lengthAdjust="spacingAndGlyphs">0</text>
<line x1="228.38" y1="666.80" x2="228.38" y2="669.80" stroke="#000" stroke-width="1.2" stroke-linecap="butt"/>
<line x1="234.34" y1="666.80" x2="234.34" y2="669.80" stroke="#000" stroke-width="1.2" stroke-linecap="butt"/>
<line x1="238.56" y1="666.80" x2="238.56" y2="669.80" stroke="#000" stroke-width="1.2" stroke-linecap="butt"/>
<line x1="241.84" y1="666.80" x2="241.84" y2="669.80" stroke="#000" stroke-width="1.2" stroke-linecap="butt"/>
<line x1="244.52" y1="666.80" x2="244.52" y2="669.80" stroke="#000" stroke-width="1.2" stroke-linecap="butt"/>
<line x1="246.79" y1="666.80" x2="246.79" y2="669.80" stroke="#000" stroke-width="1.2" stroke-linecap="butt"/>
<line x1="248.75" y1="666.80" x2="248.75" y2="669.80" stroke="#000" stroke-width="1.2" stroke-linecap="butt"/>
<line x1="250.48" y1="666.80" x2="250.48" y2="669.80" stroke="#000" stroke-width="1.2" stroke-linecap="butt"/>
<line x1="252.02" y1="666.80" x2="252.02" y2="671.10" stroke="#000" stroke-width="1.4" stroke-linecap="butt"/>
<text x="245.62" y="680.20" font-size="6.4" fill="#333" textLength="8.2" lengthAdjust="spacingAndGlyphs">10</text>
<text x="253.62" y="677.70" font-size="5.3" fill="#333" textLength="3.9" lengthAdjust="spacingAndGlyphs">1</text>
<line x1="262.21" y1="666.80" x2="262.21" y2="669.80" stroke="#000" stroke-width="1.2" stroke-linecap="butt"/>
<line x1="268.16" y1="666.80" x2="268.16" y2="669.80" stroke="#000" stroke-width="1.2" stroke-linecap="butt"/>
<line x1="272.39" y1="666.80" x2="272.39" y2="669.80" stroke="#000" stroke-width="1.2" stroke-linecap="butt"/>
<line x1="275.67" y1="666.80" x2="275.67" y2="669.80" stroke="#000" stroke-width="1.2" stroke-linecap="butt"/>
<line x1="278.35" y1="666.80" x2="278.35" y2="669.80" stroke="#000" stroke-width="1.2" stroke-linecap="butt"/>
<line x1="280.61" y1="666.80" x2="280.61" y2="669.80" stroke="#000" stroke-width="1.2" stroke-linecap="butt"/>
<line x1="282.57" y1="666.80" x2="282.57" y2="669.80" stroke="#000" stroke-width="1.2" stroke-linecap="butt"/>
<line x1="284.30" y1="666.80" x2="284.30" y2="669.80" stroke="#000" stroke-width="1.2" stroke-linecap="butt"/>
<line x1="285.85" y1="666.80" x2="285.85" y2="671.10" stroke="#000" stroke-width="1.4" stroke-linecap="butt"/>
<text x="279.45" y="680.20" font-size="6.4" fill="#333" textLength="8.2" lengthAdjust="spacingAndGlyphs">10</text>
<text x="287.45" y="677.70" font-size="5.3" fill="#333" textLength="3.9" lengthAdjust="spacingAndGlyphs">2</text>
<line x1="296.03" y1="666.80" x2="296.03" y2="669.80" stroke="#000" stroke-width="1.2" stroke-linecap="butt"/>
<line x1="301.99" y1="666.80" x2="301.99" y2="669.80" stroke="#000" stroke-width="1.2" stroke-linecap="butt"/>
<line x1="306.21" y1="666.80" x2="306.21" y2="669.80" stroke="#000" stroke-width="1.2" stroke-linecap="butt"/>
<line x1="309.49" y1="666.80" x2="309.49" y2="669.80" stroke="#000" stroke-width="1.2" stroke-linecap="butt"/>
<line x1="312.17" y1="666.80" x2="312.17" y2="669.80" stroke="#000" stroke-width="1.2" stroke-linecap="butt"/>
<line x1="314.44" y1="666.80" x2="314.44" y2="669.80" stroke="#000" stroke-width="1.2" stroke-linecap="butt"/>
<line x1="316.40" y1="666.80" x2="316.40" y2="669.80" stroke="#000" stroke-width="1.2" stroke-linecap="butt"/>
<line x1="318.13" y1="666.80" x2="318.13" y2="669.80" stroke="#000" stroke-width="1.2" stroke-linecap="butt"/>
<line x1="319.68" y1="666.80" x2="319.68" y2="671.10" stroke="#000" stroke-width="1.4" stroke-linecap="butt"/>
<text x="313.28" y="680.20" font-size="6.4" fill="#333" textLength="8.2" lengthAdjust="spacingAndGlyphs">10</text>
<text x="321.28" y="677.70" font-size="5.3" fill="#333" textLength="3.9" lengthAdjust="spacingAndGlyphs">3</text>
<line x1="329.86" y1="666.80" x2="329.86" y2="669.80" stroke="#000" stroke-width="1.2" stroke-linecap="butt"/>
<line x1="335.81" y1="666.80" x2="335.81" y2="669.80" stroke="#000" stroke-width="1.2" stroke-linecap="butt"/>
<line x1="340.04" y1="666.80" x2="340.04" y2="669.80" stroke="#000" stroke-width="1.2" stroke-linecap="butt"/>
<line x1="343.32" y1="666.80" x2="343.32" y2="669.80" stroke="#000" stroke-width="1.2" stroke-linecap="butt"/>
<line x1="346.00" y1="666.80" x2="346.00" y2="669.80" stroke="#000" stroke-width="1.2" stroke-linecap="butt"/>
<line x1="348.26" y1="666.80" x2="348.26" y2="669.80" stroke="#000" stroke-width="1.2" stroke-linecap="butt"/>
<line x1="350.22" y1="666.80" x2="350.22" y2="669.80" stroke="#000" stroke-width="1.2" stroke-linecap="butt"/>
<line x1="351.95" y1="666.80" x2="351.95" y2="669.80" stroke="#000" stroke-width="1.2" stroke-linecap="butt"/>
<line x1="353.50" y1="666.80" x2="353.50" y2="671.10" stroke="#000" stroke-width="1.4" stroke-linecap="butt"/>
<text x="347.10" y="680.20" font-size="6.4" fill="#333" textLength="8.2" lengthAdjust="spacingAndGlyphs">10</text>
<text x="355.10" y="677.70" font-size="5.3" fill="#333" textLength="3.9" lengthAdjust="spacingAndGlyphs">4</text>
<path d="M218.50,644.20 L219.50,641.00 L220.80,639.60 L222.00,638.00 L223.50,633.00 L224.60,630.00 L226.00,626.00 L227.00,622.00 L228.50,616.00 L230.00,611.00 L231.50,610.40 L232.30,603.00 L232.80,600.00 L234.40,589.60 L236.40,584.10 L236.80,574.70 L238.30,566.90 L239.10,561.40 L239.50,555.90 L241.10,552.70 L241.60,541.80 L242.60,545.70 L243.20,551.20 L244.20,541.00 L245.80,537.80 L247.70,539.40 L248.10,549.60 L248.50,556.70 L250.10,562.90 L251.30,570.80 L252.10,580.20 L253.20,591.20 L254.00,600.00 L254.60,610.00 L255.50,620.00 L257.20,630.00 L258.50,637.00 L260.00,643.00 L261.00,646.00 L263.00,650.00 L265.00,655.00 L267.00,660.00 L269.00,664.00 L270.80,666.00 L275.00,666.50 L282.00,665.80 L290.00,666.00 L300.00,666.60 L353.00,666.80" stroke="#000" stroke-width="1.45" fill="none" stroke-linejoin="round"/>
<line x1="379.20" y1="531.00" x2="514.30" y2="531.00" stroke="#000" stroke-width="1.4" stroke-linecap="butt"/>
<line x1="514.30" y1="531.00" x2="514.30" y2="667.10" stroke="#000" stroke-width="1.4" stroke-linecap="butt"/>
<line x1="379.20" y1="530.30" x2="379.20" y2="668.10" stroke="#000" stroke-width="2" stroke-linecap="butt"/>
<line x1="378.20" y1="667.10" x2="515.00" y2="667.10" stroke="#000" stroke-width="2" stroke-linecap="butt"/>
<line x1="374.50" y1="667.10" x2="379.20" y2="667.10" stroke="#000" stroke-width="1.3" stroke-linecap="butt"/>
<text x="371.90" y="670.40" font-size="6.8" font-weight="normal" text-anchor="end" fill="#222">0</text>
<line x1="374.50" y1="626.80" x2="379.20" y2="626.80" stroke="#000" stroke-width="1.3" stroke-linecap="butt"/>
<text x="371.90" y="630.10" font-size="6.8" font-weight="normal" text-anchor="end" fill="#222">50</text>
<line x1="374.50" y1="586.50" x2="379.20" y2="586.50" stroke="#000" stroke-width="1.3" stroke-linecap="butt"/>
<text x="371.90" y="589.80" font-size="6.8" font-weight="normal" text-anchor="end" fill="#222">100</text>
<line x1="374.50" y1="546.20" x2="379.20" y2="546.20" stroke="#000" stroke-width="1.3" stroke-linecap="butt"/>
<text x="371.90" y="549.50" font-size="6.8" font-weight="normal" text-anchor="end" fill="#222">150</text>
<line x1="376.60" y1="659.04" x2="379.20" y2="659.04" stroke="#000" stroke-width="1.1" stroke-linecap="butt"/>
<line x1="376.60" y1="650.98" x2="379.20" y2="650.98" stroke="#000" stroke-width="1.1" stroke-linecap="butt"/>
<line x1="376.60" y1="642.92" x2="379.20" y2="642.92" stroke="#000" stroke-width="1.1" stroke-linecap="butt"/>
<line x1="376.60" y1="634.86" x2="379.20" y2="634.86" stroke="#000" stroke-width="1.1" stroke-linecap="butt"/>
<line x1="376.60" y1="618.74" x2="379.20" y2="618.74" stroke="#000" stroke-width="1.1" stroke-linecap="butt"/>
<line x1="376.60" y1="610.68" x2="379.20" y2="610.68" stroke="#000" stroke-width="1.1" stroke-linecap="butt"/>
<line x1="376.60" y1="602.62" x2="379.20" y2="602.62" stroke="#000" stroke-width="1.1" stroke-linecap="butt"/>
<line x1="376.60" y1="594.56" x2="379.20" y2="594.56" stroke="#000" stroke-width="1.1" stroke-linecap="butt"/>
<line x1="376.60" y1="578.44" x2="379.20" y2="578.44" stroke="#000" stroke-width="1.1" stroke-linecap="butt"/>
<line x1="376.60" y1="570.38" x2="379.20" y2="570.38" stroke="#000" stroke-width="1.1" stroke-linecap="butt"/>
<line x1="376.60" y1="562.32" x2="379.20" y2="562.32" stroke="#000" stroke-width="1.1" stroke-linecap="butt"/>
<line x1="376.60" y1="554.26" x2="379.20" y2="554.26" stroke="#000" stroke-width="1.1" stroke-linecap="butt"/>
<line x1="379.20" y1="667.10" x2="379.20" y2="671.40" stroke="#000" stroke-width="1.4" stroke-linecap="butt"/>
<text x="372.80" y="680.50" font-size="6.4" fill="#333" textLength="8.2" lengthAdjust="spacingAndGlyphs">10</text>
<text x="380.80" y="678.00" font-size="5.3" fill="#333" textLength="3.9" lengthAdjust="spacingAndGlyphs">0</text>
<line x1="389.37" y1="667.10" x2="389.37" y2="670.10" stroke="#000" stroke-width="1.2" stroke-linecap="butt"/>
<line x1="395.31" y1="667.10" x2="395.31" y2="670.10" stroke="#000" stroke-width="1.2" stroke-linecap="butt"/>
<line x1="399.53" y1="667.10" x2="399.53" y2="670.10" stroke="#000" stroke-width="1.2" stroke-linecap="butt"/>
<line x1="402.81" y1="667.10" x2="402.81" y2="670.10" stroke="#000" stroke-width="1.2" stroke-linecap="butt"/>
<line x1="405.48" y1="667.10" x2="405.48" y2="670.10" stroke="#000" stroke-width="1.2" stroke-linecap="butt"/>
<line x1="407.74" y1="667.10" x2="407.74" y2="670.10" stroke="#000" stroke-width="1.2" stroke-linecap="butt"/>
<line x1="409.70" y1="667.10" x2="409.70" y2="670.10" stroke="#000" stroke-width="1.2" stroke-linecap="butt"/>
<line x1="411.43" y1="667.10" x2="411.43" y2="670.10" stroke="#000" stroke-width="1.2" stroke-linecap="butt"/>
<line x1="412.97" y1="667.10" x2="412.97" y2="671.40" stroke="#000" stroke-width="1.4" stroke-linecap="butt"/>
<text x="406.57" y="680.50" font-size="6.4" fill="#333" textLength="8.2" lengthAdjust="spacingAndGlyphs">10</text>
<text x="414.57" y="678.00" font-size="5.3" fill="#333" textLength="3.9" lengthAdjust="spacingAndGlyphs">1</text>
<line x1="423.14" y1="667.10" x2="423.14" y2="670.10" stroke="#000" stroke-width="1.2" stroke-linecap="butt"/>
<line x1="429.09" y1="667.10" x2="429.09" y2="670.10" stroke="#000" stroke-width="1.2" stroke-linecap="butt"/>
<line x1="433.31" y1="667.10" x2="433.31" y2="670.10" stroke="#000" stroke-width="1.2" stroke-linecap="butt"/>
<line x1="436.58" y1="667.10" x2="436.58" y2="670.10" stroke="#000" stroke-width="1.2" stroke-linecap="butt"/>
<line x1="439.26" y1="667.10" x2="439.26" y2="670.10" stroke="#000" stroke-width="1.2" stroke-linecap="butt"/>
<line x1="441.52" y1="667.10" x2="441.52" y2="670.10" stroke="#000" stroke-width="1.2" stroke-linecap="butt"/>
<line x1="443.48" y1="667.10" x2="443.48" y2="670.10" stroke="#000" stroke-width="1.2" stroke-linecap="butt"/>
<line x1="445.20" y1="667.10" x2="445.20" y2="670.10" stroke="#000" stroke-width="1.2" stroke-linecap="butt"/>
<line x1="446.75" y1="667.10" x2="446.75" y2="671.40" stroke="#000" stroke-width="1.4" stroke-linecap="butt"/>
<text x="440.35" y="680.50" font-size="6.4" fill="#333" textLength="8.2" lengthAdjust="spacingAndGlyphs">10</text>
<text x="448.35" y="678.00" font-size="5.3" fill="#333" textLength="3.9" lengthAdjust="spacingAndGlyphs">2</text>
<line x1="456.92" y1="667.10" x2="456.92" y2="670.10" stroke="#000" stroke-width="1.2" stroke-linecap="butt"/>
<line x1="462.86" y1="667.10" x2="462.86" y2="670.10" stroke="#000" stroke-width="1.2" stroke-linecap="butt"/>
<line x1="467.08" y1="667.10" x2="467.08" y2="670.10" stroke="#000" stroke-width="1.2" stroke-linecap="butt"/>
<line x1="470.36" y1="667.10" x2="470.36" y2="670.10" stroke="#000" stroke-width="1.2" stroke-linecap="butt"/>
<line x1="473.03" y1="667.10" x2="473.03" y2="670.10" stroke="#000" stroke-width="1.2" stroke-linecap="butt"/>
<line x1="475.29" y1="667.10" x2="475.29" y2="670.10" stroke="#000" stroke-width="1.2" stroke-linecap="butt"/>
<line x1="477.25" y1="667.10" x2="477.25" y2="670.10" stroke="#000" stroke-width="1.2" stroke-linecap="butt"/>
<line x1="478.98" y1="667.10" x2="478.98" y2="670.10" stroke="#000" stroke-width="1.2" stroke-linecap="butt"/>
<line x1="480.52" y1="667.10" x2="480.52" y2="671.40" stroke="#000" stroke-width="1.4" stroke-linecap="butt"/>
<text x="474.12" y="680.50" font-size="6.4" fill="#333" textLength="8.2" lengthAdjust="spacingAndGlyphs">10</text>
<text x="482.12" y="678.00" font-size="5.3" fill="#333" textLength="3.9" lengthAdjust="spacingAndGlyphs">3</text>
<line x1="490.69" y1="667.10" x2="490.69" y2="670.10" stroke="#000" stroke-width="1.2" stroke-linecap="butt"/>
<line x1="496.64" y1="667.10" x2="496.64" y2="670.10" stroke="#000" stroke-width="1.2" stroke-linecap="butt"/>
<line x1="500.86" y1="667.10" x2="500.86" y2="670.10" stroke="#000" stroke-width="1.2" stroke-linecap="butt"/>
<line x1="504.13" y1="667.10" x2="504.13" y2="670.10" stroke="#000" stroke-width="1.2" stroke-linecap="butt"/>
<line x1="506.81" y1="667.10" x2="506.81" y2="670.10" stroke="#000" stroke-width="1.2" stroke-linecap="butt"/>
<line x1="509.07" y1="667.10" x2="509.07" y2="670.10" stroke="#000" stroke-width="1.2" stroke-linecap="butt"/>
<line x1="511.03" y1="667.10" x2="511.03" y2="670.10" stroke="#000" stroke-width="1.2" stroke-linecap="butt"/>
<line x1="512.75" y1="667.10" x2="512.75" y2="670.10" stroke="#000" stroke-width="1.2" stroke-linecap="butt"/>
<line x1="514.30" y1="667.10" x2="514.30" y2="671.40" stroke="#000" stroke-width="1.4" stroke-linecap="butt"/>
<text x="507.90" y="680.50" font-size="6.4" fill="#333" textLength="8.2" lengthAdjust="spacingAndGlyphs">10</text>
<text x="515.90" y="678.00" font-size="5.3" fill="#333" textLength="3.9" lengthAdjust="spacingAndGlyphs">4</text>
<path d="M379.50,641.20 L381.20,638.30 L384.00,637.30 L386.00,629.60 L387.90,623.80 L389.80,624.80 L391.20,616.20 L392.70,611.30 L393.00,605.00 L394.20,591.20 L395.40,585.80 L396.60,594.20 L397.20,586.50 L398.20,575.80 L399.20,571.20 L401.20,566.50 L402.30,552.70 L403.00,552.00 L404.60,537.30 L406.20,548.80 L408.50,555.80 L410.80,568.00 L412.30,575.80 L413.80,577.30 L415.00,594.20 L415.80,605.00 L416.20,620.00 L417.70,635.40 L419.60,645.00 L422.50,652.70 L425.40,657.50 L428.30,656.20 L431.20,654.60 L434.00,651.70 L436.00,653.70 L438.80,650.80 L441.70,654.60 L445.60,660.40 L450.40,664.20 L455.20,666.20 L470.00,666.80 L513.00,667.00" stroke="#000" stroke-width="1.55" fill="none" stroke-linejoin="round"/>
<line x1="26.70" y1="686.30" x2="26.70" y2="572.20" stroke="#000" stroke-width="1.8" stroke-linecap="butt"/>
<path d="M22.90,574.90 L26.70,564.20 L30.50,574.90 Z" fill="#000"/>
<line x1="25.60" y1="686.30" x2="147.50" y2="686.30" stroke="#000" stroke-width="1.8" stroke-linecap="butt"/>
<path d="M144.50,682.30 L155.50,686.30 L144.50,690.30 Z" fill="#000"/>
<line x1="196.00" y1="686.30" x2="196.00" y2="572.30" stroke="#000" stroke-width="1.8" stroke-linecap="butt"/>
<path d="M192.20,575.00 L196.00,564.30 L199.80,575.00 Z" fill="#000"/>
<line x1="195.10" y1="686.30" x2="477.00" y2="686.30" stroke="#000" stroke-width="1.8" stroke-linecap="butt"/>
<path d="M474.00,682.30 L485.00,686.30 L474.00,690.30 Z" fill="#000"/>
<text x="0" y="0" font-size="9" font-weight="bold" text-anchor="middle" textLength="29.6" lengthAdjust="spacingAndGlyphs" transform="translate(17.00,628.00) rotate(-90)">Counts</text>
<text x="79.90" y="696.30" font-size="9.6" font-weight="bold" textLength="23.2" lengthAdjust="spacingAndGlyphs">IL-7R</text>
<text x="340.60" y="696.80" font-size="9.2" font-weight="bold" textLength="35.5" lengthAdjust="spacingAndGlyphs">pSTAT5</text>
<text x="308.80" y="541.80" font-size="8.5" font-weight="bold" textLength="40.2" lengthAdjust="spacingAndGlyphs" fill="#1a1a1a">+ medium</text>
<text x="485.60" y="542.90" font-size="8.2" font-weight="bold" textLength="20.2" lengthAdjust="spacingAndGlyphs">+IL-7</text>
<line x1="266.00" y1="616.40" x2="317.80" y2="616.40" stroke="#000" stroke-width="1.5" stroke-linecap="butt"/>
<line x1="266.00" y1="612.90" x2="266.00" y2="619.90" stroke="#000" stroke-width="1.5" stroke-linecap="butt"/>
<line x1="317.80" y1="612.90" x2="317.80" y2="619.90" stroke="#000" stroke-width="1.5" stroke-linecap="butt"/>
<text x="291.60" y="612.90" font-size="6.6" font-weight="bold" text-anchor="middle" textLength="14" lengthAdjust="spacingAndGlyphs" fill="#222">0.54</text>
<line x1="427.40" y1="616.80" x2="479.20" y2="616.80" stroke="#000" stroke-width="1.5" stroke-linecap="butt"/>
<line x1="427.40" y1="613.30" x2="427.40" y2="620.30" stroke="#000" stroke-width="1.5" stroke-linecap="butt"/>
<line x1="479.20" y1="613.30" x2="479.20" y2="620.30" stroke="#000" stroke-width="1.5" stroke-linecap="butt"/>
<text x="452.90" y="613.20" font-size="6.6" font-weight="bold" text-anchor="middle" textLength="14" lengthAdjust="spacingAndGlyphs" fill="#222">5.45</text>
<text x="42.60" y="523.70" font-size="20" font-weight="bold">i</text>
<text x="62.00" y="522.40" font-size="12.5" font-weight="bold" textLength="46.5" lengthAdjust="spacingAndGlyphs" font-style="italic">Gimap1</text>
<text x="109.30" y="515.10" font-size="9.6" font-weight="bold" textLength="16.6" lengthAdjust="spacingAndGlyphs" font-style="italic">fl/fl</text>
<text x="125.20" y="522.30" font-size="12.5" font-weight="bold" textLength="66.2" lengthAdjust="spacingAndGlyphs" font-style="italic">hCD2-iCre</text>
<rect x="193.3" y="508.8" width="4" height="2" fill="#000"/>
<line x1="49.60" y1="721.50" x2="180.30" y2="721.50" stroke="#000" stroke-width="1.4" stroke-linecap="butt"/>
<line x1="180.30" y1="721.50" x2="180.30" y2="853.50" stroke="#000" stroke-width="1.4" stroke-linecap="butt"/>
<line x1="49.60" y1="720.80" x2="49.60" y2="854.50" stroke="#000" stroke-width="2" stroke-linecap="butt"/>
<line x1="48.60" y1="853.50" x2="181.00" y2="853.50" stroke="#000" stroke-width="2" stroke-linecap="butt"/>
<line x1="44.90" y1="853.50" x2="49.60" y2="853.50" stroke="#000" stroke-width="1.3" stroke-linecap="butt"/>
<text x="42.30" y="856.80" font-size="6.8" font-weight="normal" text-anchor="end" fill="#222">0</text>
<line x1="44.90" y1="828.26" x2="49.60" y2="828.26" stroke="#000" stroke-width="1.3" stroke-linecap="butt"/>
<text x="42.30" y="831.56" font-size="6.8" font-weight="normal" text-anchor="end" fill="#222">20</text>
<line x1="44.90" y1="803.02" x2="49.60" y2="803.02" stroke="#000" stroke-width="1.3" stroke-linecap="butt"/>
<text x="42.30" y="806.32" font-size="6.8" font-weight="normal" text-anchor="end" fill="#222">40</text>
<line x1="44.90" y1="777.78" x2="49.60" y2="777.78" stroke="#000" stroke-width="1.3" stroke-linecap="butt"/>
<text x="42.30" y="781.08" font-size="6.8" font-weight="normal" text-anchor="end" fill="#222">60</text>
<line x1="44.90" y1="752.54" x2="49.60" y2="752.54" stroke="#000" stroke-width="1.3" stroke-linecap="butt"/>
<text x="42.30" y="755.84" font-size="6.8" font-weight="normal" text-anchor="end" fill="#222">80</text>
<line x1="44.90" y1="727.30" x2="49.60" y2="727.30" stroke="#000" stroke-width="1.3" stroke-linecap="butt"/>
<text x="42.30" y="730.60" font-size="6.8" font-weight="normal" text-anchor="end" fill="#222">100</text>
<line x1="47.00" y1="847.19" x2="49.60" y2="847.19" stroke="#000" stroke-width="1.1" stroke-linecap="butt"/>
<line x1="47.00" y1="840.88" x2="49.60" y2="840.88" stroke="#000" stroke-width="1.1" stroke-linecap="butt"/>
<line x1="47.00" y1="834.57" x2="49.60" y2="834.57" stroke="#000" stroke-width="1.1" stroke-linecap="butt"/>
<line x1="47.00" y1="821.95" x2="49.60" y2="821.95" stroke="#000" stroke-width="1.1" stroke-linecap="butt"/>
<line x1="47.00" y1="815.64" x2="49.60" y2="815.64" stroke="#000" stroke-width="1.1" stroke-linecap="butt"/>
<line x1="47.00" y1="809.33" x2="49.60" y2="809.33" stroke="#000" stroke-width="1.1" stroke-linecap="butt"/>
<line x1="47.00" y1="796.71" x2="49.60" y2="796.71" stroke="#000" stroke-width="1.1" stroke-linecap="butt"/>
<line x1="47.00" y1="790.40" x2="49.60" y2="790.40" stroke="#000" stroke-width="1.1" stroke-linecap="butt"/>
<line x1="47.00" y1="784.09" x2="49.60" y2="784.09" stroke="#000" stroke-width="1.1" stroke-linecap="butt"/>
<line x1="47.00" y1="771.47" x2="49.60" y2="771.47" stroke="#000" stroke-width="1.1" stroke-linecap="butt"/>
<line x1="47.00" y1="765.16" x2="49.60" y2="765.16" stroke="#000" stroke-width="1.1" stroke-linecap="butt"/>
<line x1="47.00" y1="758.85" x2="49.60" y2="758.85" stroke="#000" stroke-width="1.1" stroke-linecap="butt"/>
<line x1="47.00" y1="746.23" x2="49.60" y2="746.23" stroke="#000" stroke-width="1.1" stroke-linecap="butt"/>
<line x1="47.00" y1="739.92" x2="49.60" y2="739.92" stroke="#000" stroke-width="1.1" stroke-linecap="butt"/>
<line x1="47.00" y1="733.61" x2="49.60" y2="733.61" stroke="#000" stroke-width="1.1" stroke-linecap="butt"/>
<line x1="49.60" y1="853.50" x2="49.60" y2="857.80" stroke="#000" stroke-width="1.4" stroke-linecap="butt"/>
<text x="43.20" y="867.10" font-size="6.4" fill="#333" textLength="8.2" lengthAdjust="spacingAndGlyphs">10</text>
<text x="51.20" y="864.60" font-size="5.3" fill="#333" textLength="3.9" lengthAdjust="spacingAndGlyphs">0</text>
<line x1="59.44" y1="853.50" x2="59.44" y2="856.50" stroke="#000" stroke-width="1.2" stroke-linecap="butt"/>
<line x1="65.19" y1="853.50" x2="65.19" y2="856.50" stroke="#000" stroke-width="1.2" stroke-linecap="butt"/>
<line x1="69.27" y1="853.50" x2="69.27" y2="856.50" stroke="#000" stroke-width="1.2" stroke-linecap="butt"/>
<line x1="72.44" y1="853.50" x2="72.44" y2="856.50" stroke="#000" stroke-width="1.2" stroke-linecap="butt"/>
<line x1="75.03" y1="853.50" x2="75.03" y2="856.50" stroke="#000" stroke-width="1.2" stroke-linecap="butt"/>
<line x1="77.21" y1="853.50" x2="77.21" y2="856.50" stroke="#000" stroke-width="1.2" stroke-linecap="butt"/>
<line x1="79.11" y1="853.50" x2="79.11" y2="856.50" stroke="#000" stroke-width="1.2" stroke-linecap="butt"/>
<line x1="80.78" y1="853.50" x2="80.78" y2="856.50" stroke="#000" stroke-width="1.2" stroke-linecap="butt"/>
<line x1="82.28" y1="853.50" x2="82.28" y2="857.80" stroke="#000" stroke-width="1.4" stroke-linecap="butt"/>
<text x="75.88" y="867.10" font-size="6.4" fill="#333" textLength="8.2" lengthAdjust="spacingAndGlyphs">10</text>
<text x="83.88" y="864.60" font-size="5.3" fill="#333" textLength="3.9" lengthAdjust="spacingAndGlyphs">1</text>
<line x1="92.11" y1="853.50" x2="92.11" y2="856.50" stroke="#000" stroke-width="1.2" stroke-linecap="butt"/>
<line x1="97.86" y1="853.50" x2="97.86" y2="856.50" stroke="#000" stroke-width="1.2" stroke-linecap="butt"/>
<line x1="101.95" y1="853.50" x2="101.95" y2="856.50" stroke="#000" stroke-width="1.2" stroke-linecap="butt"/>
<line x1="105.11" y1="853.50" x2="105.11" y2="856.50" stroke="#000" stroke-width="1.2" stroke-linecap="butt"/>
<line x1="107.70" y1="853.50" x2="107.70" y2="856.50" stroke="#000" stroke-width="1.2" stroke-linecap="butt"/>
<line x1="109.89" y1="853.50" x2="109.89" y2="856.50" stroke="#000" stroke-width="1.2" stroke-linecap="butt"/>
<line x1="111.78" y1="853.50" x2="111.78" y2="856.50" stroke="#000" stroke-width="1.2" stroke-linecap="butt"/>
<line x1="113.45" y1="853.50" x2="113.45" y2="856.50" stroke="#000" stroke-width="1.2" stroke-linecap="butt"/>
<line x1="114.95" y1="853.50" x2="114.95" y2="857.80" stroke="#000" stroke-width="1.4" stroke-linecap="butt"/>
<text x="108.55" y="867.10" font-size="6.4" fill="#333" textLength="8.2" lengthAdjust="spacingAndGlyphs">10</text>
<text x="116.55" y="864.60" font-size="5.3" fill="#333" textLength="3.9" lengthAdjust="spacingAndGlyphs">2</text>
<line x1="124.79" y1="853.50" x2="124.79" y2="856.50" stroke="#000" stroke-width="1.2" stroke-linecap="butt"/>
<line x1="130.54" y1="853.50" x2="130.54" y2="856.50" stroke="#000" stroke-width="1.2" stroke-linecap="butt"/>
<line x1="134.62" y1="853.50" x2="134.62" y2="856.50" stroke="#000" stroke-width="1.2" stroke-linecap="butt"/>
<line x1="137.79" y1="853.50" x2="137.79" y2="856.50" stroke="#000" stroke-width="1.2" stroke-linecap="butt"/>
<line x1="140.38" y1="853.50" x2="140.38" y2="856.50" stroke="#000" stroke-width="1.2" stroke-linecap="butt"/>
<line x1="142.56" y1="853.50" x2="142.56" y2="856.50" stroke="#000" stroke-width="1.2" stroke-linecap="butt"/>
<line x1="144.46" y1="853.50" x2="144.46" y2="856.50" stroke="#000" stroke-width="1.2" stroke-linecap="butt"/>
<line x1="146.13" y1="853.50" x2="146.13" y2="856.50" stroke="#000" stroke-width="1.2" stroke-linecap="butt"/>
<line x1="147.62" y1="853.50" x2="147.62" y2="857.80" stroke="#000" stroke-width="1.4" stroke-linecap="butt"/>
<text x="141.23" y="867.10" font-size="6.4" fill="#333" textLength="8.2" lengthAdjust="spacingAndGlyphs">10</text>
<text x="149.23" y="864.60" font-size="5.3" fill="#333" textLength="3.9" lengthAdjust="spacingAndGlyphs">3</text>
<line x1="157.46" y1="853.50" x2="157.46" y2="856.50" stroke="#000" stroke-width="1.2" stroke-linecap="butt"/>
<line x1="163.21" y1="853.50" x2="163.21" y2="856.50" stroke="#000" stroke-width="1.2" stroke-linecap="butt"/>
<line x1="167.30" y1="853.50" x2="167.30" y2="856.50" stroke="#000" stroke-width="1.2" stroke-linecap="butt"/>
<line x1="170.46" y1="853.50" x2="170.46" y2="856.50" stroke="#000" stroke-width="1.2" stroke-linecap="butt"/>
<line x1="173.05" y1="853.50" x2="173.05" y2="856.50" stroke="#000" stroke-width="1.2" stroke-linecap="butt"/>
<line x1="175.24" y1="853.50" x2="175.24" y2="856.50" stroke="#000" stroke-width="1.2" stroke-linecap="butt"/>
<line x1="177.13" y1="853.50" x2="177.13" y2="856.50" stroke="#000" stroke-width="1.2" stroke-linecap="butt"/>
<line x1="178.80" y1="853.50" x2="178.80" y2="856.50" stroke="#000" stroke-width="1.2" stroke-linecap="butt"/>
<line x1="180.30" y1="853.50" x2="180.30" y2="857.80" stroke="#000" stroke-width="1.4" stroke-linecap="butt"/>
<text x="173.90" y="867.10" font-size="6.4" fill="#333" textLength="8.2" lengthAdjust="spacingAndGlyphs">10</text>
<text x="181.90" y="864.60" font-size="5.3" fill="#333" textLength="3.9" lengthAdjust="spacingAndGlyphs">4</text>
<path d="M50.00,853.50 L50.00,730.00 L50.60,727.50 L51.50,727.30 L55.40,737.00 L58.30,746.70 L60.20,752.40 L61.50,768.80 L62.70,778.50 L63.50,792.00 L64.00,803.00 L64.00,811.20 L66.00,830.50 L67.90,840.00 L69.80,847.80 L72.70,852.50 L76.00,853.50" stroke="#000" stroke-width="2.2" fill="#b4b4b4" stroke-linejoin="round"/>
<path d="M50.00,814.00 L52.00,817.00 L53.50,819.00 L55.00,813.00 L56.30,811.20 L57.50,806.00 L59.20,800.70 L61.20,797.80 L63.00,794.50 L64.50,790.00 L66.00,785.20 L67.00,782.30 L68.80,770.80 L70.40,766.00 L71.50,762.00 L72.70,753.50 L74.20,740.00 L75.60,745.80 L77.50,747.70 L78.50,735.00 L79.40,725.60 L81.30,736.00 L83.30,733.30 L85.20,724.60 L86.20,740.00 L88.00,750.60 L89.60,752.50 L90.40,761.00 L91.50,776.50 L93.80,784.20 L94.80,792.00 L96.20,801.60 L97.70,815.00 L99.60,830.50 L101.50,842.00 L104.40,849.70 L107.30,853.00 L115.00,853.30 L180.00,853.50" stroke="#000" stroke-width="2.2" fill="none" stroke-linejoin="round"/>
<path d="M49.80,722.00 L50.80,724.00 L51.50,726.50 L52.60,726.00 L53.20,729.50 L53.90,733.00 L54.40,736.00 L53.00,738.00 L51.00,738.50 L49.80,738.50 Z" stroke="#000" stroke-width="0.6" fill="#000" stroke-linejoin="round"/>
<line x1="222.70" y1="720.00" x2="353.50" y2="720.00" stroke="#000" stroke-width="1.4" stroke-linecap="butt"/>
<line x1="353.50" y1="720.00" x2="353.50" y2="853.00" stroke="#000" stroke-width="1.4" stroke-linecap="butt"/>
<line x1="222.70" y1="719.30" x2="222.70" y2="854.00" stroke="#000" stroke-width="2" stroke-linecap="butt"/>
<line x1="221.70" y1="853.00" x2="354.20" y2="853.00" stroke="#000" stroke-width="2" stroke-linecap="butt"/>
<line x1="218.00" y1="853.00" x2="222.70" y2="853.00" stroke="#000" stroke-width="1.3" stroke-linecap="butt"/>
<text x="215.40" y="856.30" font-size="6.8" font-weight="normal" text-anchor="end" fill="#222">0</text>
<line x1="218.00" y1="818.70" x2="222.70" y2="818.70" stroke="#000" stroke-width="1.3" stroke-linecap="butt"/>
<text x="215.40" y="822.00" font-size="6.8" font-weight="normal" text-anchor="end" fill="#222">50</text>
<line x1="218.00" y1="784.40" x2="222.70" y2="784.40" stroke="#000" stroke-width="1.3" stroke-linecap="butt"/>
<text x="215.40" y="787.70" font-size="6.8" font-weight="normal" text-anchor="end" fill="#222">100</text>
<line x1="218.00" y1="750.10" x2="222.70" y2="750.10" stroke="#000" stroke-width="1.3" stroke-linecap="butt"/>
<text x="215.40" y="753.40" font-size="6.8" font-weight="normal" text-anchor="end" fill="#222">150</text>
<line x1="220.10" y1="846.14" x2="222.70" y2="846.14" stroke="#000" stroke-width="1.1" stroke-linecap="butt"/>
<line x1="220.10" y1="839.28" x2="222.70" y2="839.28" stroke="#000" stroke-width="1.1" stroke-linecap="butt"/>
<line x1="220.10" y1="832.42" x2="222.70" y2="832.42" stroke="#000" stroke-width="1.1" stroke-linecap="butt"/>
<line x1="220.10" y1="825.56" x2="222.70" y2="825.56" stroke="#000" stroke-width="1.1" stroke-linecap="butt"/>
<line x1="220.10" y1="811.84" x2="222.70" y2="811.84" stroke="#000" stroke-width="1.1" stroke-linecap="butt"/>
<line x1="220.10" y1="804.98" x2="222.70" y2="804.98" stroke="#000" stroke-width="1.1" stroke-linecap="butt"/>
<line x1="220.10" y1="798.12" x2="222.70" y2="798.12" stroke="#000" stroke-width="1.1" stroke-linecap="butt"/>
<line x1="220.10" y1="791.26" x2="222.70" y2="791.26" stroke="#000" stroke-width="1.1" stroke-linecap="butt"/>
<line x1="220.10" y1="777.54" x2="222.70" y2="777.54" stroke="#000" stroke-width="1.1" stroke-linecap="butt"/>
<line x1="220.10" y1="770.68" x2="222.70" y2="770.68" stroke="#000" stroke-width="1.1" stroke-linecap="butt"/>
<line x1="220.10" y1="763.82" x2="222.70" y2="763.82" stroke="#000" stroke-width="1.1" stroke-linecap="butt"/>
<line x1="220.10" y1="756.96" x2="222.70" y2="756.96" stroke="#000" stroke-width="1.1" stroke-linecap="butt"/>
<line x1="222.70" y1="853.00" x2="222.70" y2="857.30" stroke="#000" stroke-width="1.4" stroke-linecap="butt"/>
<text x="216.30" y="866.60" font-size="6.4" fill="#333" textLength="8.2" lengthAdjust="spacingAndGlyphs">10</text>
<text x="224.30" y="864.10" font-size="5.3" fill="#333" textLength="3.9" lengthAdjust="spacingAndGlyphs">0</text>
<line x1="232.54" y1="853.00" x2="232.54" y2="856.00" stroke="#000" stroke-width="1.2" stroke-linecap="butt"/>
<line x1="238.30" y1="853.00" x2="238.30" y2="856.00" stroke="#000" stroke-width="1.2" stroke-linecap="butt"/>
<line x1="242.39" y1="853.00" x2="242.39" y2="856.00" stroke="#000" stroke-width="1.2" stroke-linecap="butt"/>
<line x1="245.56" y1="853.00" x2="245.56" y2="856.00" stroke="#000" stroke-width="1.2" stroke-linecap="butt"/>
<line x1="248.15" y1="853.00" x2="248.15" y2="856.00" stroke="#000" stroke-width="1.2" stroke-linecap="butt"/>
<line x1="250.33" y1="853.00" x2="250.33" y2="856.00" stroke="#000" stroke-width="1.2" stroke-linecap="butt"/>
<line x1="252.23" y1="853.00" x2="252.23" y2="856.00" stroke="#000" stroke-width="1.2" stroke-linecap="butt"/>
<line x1="253.90" y1="853.00" x2="253.90" y2="856.00" stroke="#000" stroke-width="1.2" stroke-linecap="butt"/>
<line x1="255.40" y1="853.00" x2="255.40" y2="857.30" stroke="#000" stroke-width="1.4" stroke-linecap="butt"/>
<text x="249.00" y="866.60" font-size="6.4" fill="#333" textLength="8.2" lengthAdjust="spacingAndGlyphs">10</text>
<text x="257.00" y="864.10" font-size="5.3" fill="#333" textLength="3.9" lengthAdjust="spacingAndGlyphs">1</text>
<line x1="265.24" y1="853.00" x2="265.24" y2="856.00" stroke="#000" stroke-width="1.2" stroke-linecap="butt"/>
<line x1="271.00" y1="853.00" x2="271.00" y2="856.00" stroke="#000" stroke-width="1.2" stroke-linecap="butt"/>
<line x1="275.09" y1="853.00" x2="275.09" y2="856.00" stroke="#000" stroke-width="1.2" stroke-linecap="butt"/>
<line x1="278.26" y1="853.00" x2="278.26" y2="856.00" stroke="#000" stroke-width="1.2" stroke-linecap="butt"/>
<line x1="280.85" y1="853.00" x2="280.85" y2="856.00" stroke="#000" stroke-width="1.2" stroke-linecap="butt"/>
<line x1="283.03" y1="853.00" x2="283.03" y2="856.00" stroke="#000" stroke-width="1.2" stroke-linecap="butt"/>
<line x1="284.93" y1="853.00" x2="284.93" y2="856.00" stroke="#000" stroke-width="1.2" stroke-linecap="butt"/>
<line x1="286.60" y1="853.00" x2="286.60" y2="856.00" stroke="#000" stroke-width="1.2" stroke-linecap="butt"/>
<line x1="288.10" y1="853.00" x2="288.10" y2="857.30" stroke="#000" stroke-width="1.4" stroke-linecap="butt"/>
<text x="281.70" y="866.60" font-size="6.4" fill="#333" textLength="8.2" lengthAdjust="spacingAndGlyphs">10</text>
<text x="289.70" y="864.10" font-size="5.3" fill="#333" textLength="3.9" lengthAdjust="spacingAndGlyphs">2</text>
<line x1="297.94" y1="853.00" x2="297.94" y2="856.00" stroke="#000" stroke-width="1.2" stroke-linecap="butt"/>
<line x1="303.70" y1="853.00" x2="303.70" y2="856.00" stroke="#000" stroke-width="1.2" stroke-linecap="butt"/>
<line x1="307.79" y1="853.00" x2="307.79" y2="856.00" stroke="#000" stroke-width="1.2" stroke-linecap="butt"/>
<line x1="310.96" y1="853.00" x2="310.96" y2="856.00" stroke="#000" stroke-width="1.2" stroke-linecap="butt"/>
<line x1="313.55" y1="853.00" x2="313.55" y2="856.00" stroke="#000" stroke-width="1.2" stroke-linecap="butt"/>
<line x1="315.73" y1="853.00" x2="315.73" y2="856.00" stroke="#000" stroke-width="1.2" stroke-linecap="butt"/>
<line x1="317.63" y1="853.00" x2="317.63" y2="856.00" stroke="#000" stroke-width="1.2" stroke-linecap="butt"/>
<line x1="319.30" y1="853.00" x2="319.30" y2="856.00" stroke="#000" stroke-width="1.2" stroke-linecap="butt"/>
<line x1="320.80" y1="853.00" x2="320.80" y2="857.30" stroke="#000" stroke-width="1.4" stroke-linecap="butt"/>
<text x="314.40" y="866.60" font-size="6.4" fill="#333" textLength="8.2" lengthAdjust="spacingAndGlyphs">10</text>
<text x="322.40" y="864.10" font-size="5.3" fill="#333" textLength="3.9" lengthAdjust="spacingAndGlyphs">3</text>
<line x1="330.64" y1="853.00" x2="330.64" y2="856.00" stroke="#000" stroke-width="1.2" stroke-linecap="butt"/>
<line x1="336.40" y1="853.00" x2="336.40" y2="856.00" stroke="#000" stroke-width="1.2" stroke-linecap="butt"/>
<line x1="340.49" y1="853.00" x2="340.49" y2="856.00" stroke="#000" stroke-width="1.2" stroke-linecap="butt"/>
<line x1="343.66" y1="853.00" x2="343.66" y2="856.00" stroke="#000" stroke-width="1.2" stroke-linecap="butt"/>
<line x1="346.25" y1="853.00" x2="346.25" y2="856.00" stroke="#000" stroke-width="1.2" stroke-linecap="butt"/>
<line x1="348.43" y1="853.00" x2="348.43" y2="856.00" stroke="#000" stroke-width="1.2" stroke-linecap="butt"/>
<line x1="350.33" y1="853.00" x2="350.33" y2="856.00" stroke="#000" stroke-width="1.2" stroke-linecap="butt"/>
<line x1="352.00" y1="853.00" x2="352.00" y2="856.00" stroke="#000" stroke-width="1.2" stroke-linecap="butt"/>
<line x1="353.50" y1="853.00" x2="353.50" y2="857.30" stroke="#000" stroke-width="1.4" stroke-linecap="butt"/>
<text x="347.10" y="866.60" font-size="6.4" fill="#333" textLength="8.2" lengthAdjust="spacingAndGlyphs">10</text>
<text x="355.10" y="864.10" font-size="5.3" fill="#333" textLength="3.9" lengthAdjust="spacingAndGlyphs">4</text>
<path d="M223.00,832.70 L225.00,830.40 L227.30,828.80 L229.60,824.20 L231.20,815.80 L232.70,812.00 L235.00,808.00 L236.50,803.50 L238.00,792.70 L238.80,782.70 L240.00,773.50 L240.40,775.80 L241.20,770.40 L242.70,761.20 L244.20,753.50 L245.80,738.00 L247.00,727.00 L248.80,745.80 L250.00,727.30 L251.20,735.00 L253.50,736.50 L255.00,744.20 L256.50,758.00 L258.00,765.80 L259.60,785.80 L260.40,794.20 L261.20,795.00 L262.70,805.00 L264.20,818.80 L265.80,825.80 L268.00,831.20 L270.40,843.50 L272.70,848.80 L275.80,851.50 L278.00,852.70 L290.00,852.60 L353.00,853.00" stroke="#000" stroke-width="1.45" fill="none" stroke-linejoin="round"/>
<line x1="378.80" y1="719.50" x2="511.30" y2="719.50" stroke="#000" stroke-width="1.4" stroke-linecap="butt"/>
<line x1="511.30" y1="719.50" x2="511.30" y2="851.80" stroke="#000" stroke-width="1.4" stroke-linecap="butt"/>
<line x1="378.80" y1="718.80" x2="378.80" y2="852.80" stroke="#000" stroke-width="2" stroke-linecap="butt"/>
<line x1="377.80" y1="851.80" x2="512.00" y2="851.80" stroke="#000" stroke-width="2" stroke-linecap="butt"/>
<line x1="374.10" y1="851.80" x2="378.80" y2="851.80" stroke="#000" stroke-width="1.3" stroke-linecap="butt"/>
<text x="371.50" y="855.10" font-size="6.8" font-weight="normal" text-anchor="end" fill="#222">0</text>
<line x1="374.10" y1="828.68" x2="378.80" y2="828.68" stroke="#000" stroke-width="1.3" stroke-linecap="butt"/>
<text x="371.50" y="831.98" font-size="6.8" font-weight="normal" text-anchor="end" fill="#222">50</text>
<line x1="374.10" y1="805.56" x2="378.80" y2="805.56" stroke="#000" stroke-width="1.3" stroke-linecap="butt"/>
<text x="371.50" y="808.86" font-size="6.8" font-weight="normal" text-anchor="end" fill="#222">100</text>
<line x1="374.10" y1="782.44" x2="378.80" y2="782.44" stroke="#000" stroke-width="1.3" stroke-linecap="butt"/>
<text x="371.50" y="785.74" font-size="6.8" font-weight="normal" text-anchor="end" fill="#222">150</text>
<line x1="374.10" y1="759.32" x2="378.80" y2="759.32" stroke="#000" stroke-width="1.3" stroke-linecap="butt"/>
<text x="371.50" y="762.62" font-size="6.8" font-weight="normal" text-anchor="end" fill="#222">200</text>
<line x1="374.10" y1="736.20" x2="378.80" y2="736.20" stroke="#000" stroke-width="1.3" stroke-linecap="butt"/>
<text x="371.50" y="739.50" font-size="6.8" font-weight="normal" text-anchor="end" fill="#222">250</text>
<line x1="376.20" y1="847.18" x2="378.80" y2="847.18" stroke="#000" stroke-width="1.1" stroke-linecap="butt"/>
<line x1="376.20" y1="842.55" x2="378.80" y2="842.55" stroke="#000" stroke-width="1.1" stroke-linecap="butt"/>
<line x1="376.20" y1="837.93" x2="378.80" y2="837.93" stroke="#000" stroke-width="1.1" stroke-linecap="butt"/>
<line x1="376.20" y1="833.30" x2="378.80" y2="833.30" stroke="#000" stroke-width="1.1" stroke-linecap="butt"/>
<line x1="376.20" y1="824.06" x2="378.80" y2="824.06" stroke="#000" stroke-width="1.1" stroke-linecap="butt"/>
<line x1="376.20" y1="819.43" x2="378.80" y2="819.43" stroke="#000" stroke-width="1.1" stroke-linecap="butt"/>
<line x1="376.20" y1="814.81" x2="378.80" y2="814.81" stroke="#000" stroke-width="1.1" stroke-linecap="butt"/>
<line x1="376.20" y1="810.18" x2="378.80" y2="810.18" stroke="#000" stroke-width="1.1" stroke-linecap="butt"/>
<line x1="376.20" y1="800.94" x2="378.80" y2="800.94" stroke="#000" stroke-width="1.1" stroke-linecap="butt"/>
<line x1="376.20" y1="796.31" x2="378.80" y2="796.31" stroke="#000" stroke-width="1.1" stroke-linecap="butt"/>
<line x1="376.20" y1="791.69" x2="378.80" y2="791.69" stroke="#000" stroke-width="1.1" stroke-linecap="butt"/>
<line x1="376.20" y1="787.06" x2="378.80" y2="787.06" stroke="#000" stroke-width="1.1" stroke-linecap="butt"/>
<line x1="376.20" y1="777.82" x2="378.80" y2="777.82" stroke="#000" stroke-width="1.1" stroke-linecap="butt"/>
<line x1="376.20" y1="773.19" x2="378.80" y2="773.19" stroke="#000" stroke-width="1.1" stroke-linecap="butt"/>
<line x1="376.20" y1="768.57" x2="378.80" y2="768.57" stroke="#000" stroke-width="1.1" stroke-linecap="butt"/>
<line x1="376.20" y1="763.94" x2="378.80" y2="763.94" stroke="#000" stroke-width="1.1" stroke-linecap="butt"/>
<line x1="376.20" y1="754.70" x2="378.80" y2="754.70" stroke="#000" stroke-width="1.1" stroke-linecap="butt"/>
<line x1="376.20" y1="750.07" x2="378.80" y2="750.07" stroke="#000" stroke-width="1.1" stroke-linecap="butt"/>
<line x1="376.20" y1="745.45" x2="378.80" y2="745.45" stroke="#000" stroke-width="1.1" stroke-linecap="butt"/>
<line x1="376.20" y1="740.82" x2="378.80" y2="740.82" stroke="#000" stroke-width="1.1" stroke-linecap="butt"/>
<line x1="378.80" y1="851.80" x2="378.80" y2="856.10" stroke="#000" stroke-width="1.4" stroke-linecap="butt"/>
<text x="372.40" y="865.40" font-size="6.4" fill="#333" textLength="8.2" lengthAdjust="spacingAndGlyphs">10</text>
<text x="380.40" y="862.90" font-size="5.3" fill="#333" textLength="3.9" lengthAdjust="spacingAndGlyphs">0</text>
<line x1="388.77" y1="851.80" x2="388.77" y2="854.80" stroke="#000" stroke-width="1.2" stroke-linecap="butt"/>
<line x1="394.60" y1="851.80" x2="394.60" y2="854.80" stroke="#000" stroke-width="1.2" stroke-linecap="butt"/>
<line x1="398.74" y1="851.80" x2="398.74" y2="854.80" stroke="#000" stroke-width="1.2" stroke-linecap="butt"/>
<line x1="401.95" y1="851.80" x2="401.95" y2="854.80" stroke="#000" stroke-width="1.2" stroke-linecap="butt"/>
<line x1="404.58" y1="851.80" x2="404.58" y2="854.80" stroke="#000" stroke-width="1.2" stroke-linecap="butt"/>
<line x1="406.79" y1="851.80" x2="406.79" y2="854.80" stroke="#000" stroke-width="1.2" stroke-linecap="butt"/>
<line x1="408.71" y1="851.80" x2="408.71" y2="854.80" stroke="#000" stroke-width="1.2" stroke-linecap="butt"/>
<line x1="410.41" y1="851.80" x2="410.41" y2="854.80" stroke="#000" stroke-width="1.2" stroke-linecap="butt"/>
<line x1="411.93" y1="851.80" x2="411.93" y2="856.10" stroke="#000" stroke-width="1.4" stroke-linecap="butt"/>
<text x="405.53" y="865.40" font-size="6.4" fill="#333" textLength="8.2" lengthAdjust="spacingAndGlyphs">10</text>
<text x="413.53" y="862.90" font-size="5.3" fill="#333" textLength="3.9" lengthAdjust="spacingAndGlyphs">1</text>
<line x1="421.90" y1="851.80" x2="421.90" y2="854.80" stroke="#000" stroke-width="1.2" stroke-linecap="butt"/>
<line x1="427.73" y1="851.80" x2="427.73" y2="854.80" stroke="#000" stroke-width="1.2" stroke-linecap="butt"/>
<line x1="431.87" y1="851.80" x2="431.87" y2="854.80" stroke="#000" stroke-width="1.2" stroke-linecap="butt"/>
<line x1="435.08" y1="851.80" x2="435.08" y2="854.80" stroke="#000" stroke-width="1.2" stroke-linecap="butt"/>
<line x1="437.70" y1="851.80" x2="437.70" y2="854.80" stroke="#000" stroke-width="1.2" stroke-linecap="butt"/>
<line x1="439.92" y1="851.80" x2="439.92" y2="854.80" stroke="#000" stroke-width="1.2" stroke-linecap="butt"/>
<line x1="441.84" y1="851.80" x2="441.84" y2="854.80" stroke="#000" stroke-width="1.2" stroke-linecap="butt"/>
<line x1="443.53" y1="851.80" x2="443.53" y2="854.80" stroke="#000" stroke-width="1.2" stroke-linecap="butt"/>
<line x1="445.05" y1="851.80" x2="445.05" y2="856.10" stroke="#000" stroke-width="1.4" stroke-linecap="butt"/>
<text x="438.65" y="865.40" font-size="6.4" fill="#333" textLength="8.2" lengthAdjust="spacingAndGlyphs">10</text>
<text x="446.65" y="862.90" font-size="5.3" fill="#333" textLength="3.9" lengthAdjust="spacingAndGlyphs">2</text>
<line x1="455.02" y1="851.80" x2="455.02" y2="854.80" stroke="#000" stroke-width="1.2" stroke-linecap="butt"/>
<line x1="460.85" y1="851.80" x2="460.85" y2="854.80" stroke="#000" stroke-width="1.2" stroke-linecap="butt"/>
<line x1="464.99" y1="851.80" x2="464.99" y2="854.80" stroke="#000" stroke-width="1.2" stroke-linecap="butt"/>
<line x1="468.20" y1="851.80" x2="468.20" y2="854.80" stroke="#000" stroke-width="1.2" stroke-linecap="butt"/>
<line x1="470.83" y1="851.80" x2="470.83" y2="854.80" stroke="#000" stroke-width="1.2" stroke-linecap="butt"/>
<line x1="473.04" y1="851.80" x2="473.04" y2="854.80" stroke="#000" stroke-width="1.2" stroke-linecap="butt"/>
<line x1="474.96" y1="851.80" x2="474.96" y2="854.80" stroke="#000" stroke-width="1.2" stroke-linecap="butt"/>
<line x1="476.66" y1="851.80" x2="476.66" y2="854.80" stroke="#000" stroke-width="1.2" stroke-linecap="butt"/>
<line x1="478.18" y1="851.80" x2="478.18" y2="856.10" stroke="#000" stroke-width="1.4" stroke-linecap="butt"/>
<text x="471.78" y="865.40" font-size="6.4" fill="#333" textLength="8.2" lengthAdjust="spacingAndGlyphs">10</text>
<text x="479.78" y="862.90" font-size="5.3" fill="#333" textLength="3.9" lengthAdjust="spacingAndGlyphs">3</text>
<line x1="488.15" y1="851.80" x2="488.15" y2="854.80" stroke="#000" stroke-width="1.2" stroke-linecap="butt"/>
<line x1="493.98" y1="851.80" x2="493.98" y2="854.80" stroke="#000" stroke-width="1.2" stroke-linecap="butt"/>
<line x1="498.12" y1="851.80" x2="498.12" y2="854.80" stroke="#000" stroke-width="1.2" stroke-linecap="butt"/>
<line x1="501.33" y1="851.80" x2="501.33" y2="854.80" stroke="#000" stroke-width="1.2" stroke-linecap="butt"/>
<line x1="503.95" y1="851.80" x2="503.95" y2="854.80" stroke="#000" stroke-width="1.2" stroke-linecap="butt"/>
<line x1="506.17" y1="851.80" x2="506.17" y2="854.80" stroke="#000" stroke-width="1.2" stroke-linecap="butt"/>
<line x1="508.09" y1="851.80" x2="508.09" y2="854.80" stroke="#000" stroke-width="1.2" stroke-linecap="butt"/>
<line x1="509.78" y1="851.80" x2="509.78" y2="854.80" stroke="#000" stroke-width="1.2" stroke-linecap="butt"/>
<line x1="511.30" y1="851.80" x2="511.30" y2="856.10" stroke="#000" stroke-width="1.4" stroke-linecap="butt"/>
<text x="504.90" y="865.40" font-size="6.4" fill="#333" textLength="8.2" lengthAdjust="spacingAndGlyphs">10</text>
<text x="512.90" y="862.90" font-size="5.3" fill="#333" textLength="3.9" lengthAdjust="spacingAndGlyphs">4</text>
<path d="M379.00,832.00 L380.60,829.00 L382.50,822.30 L384.40,816.50 L386.30,813.70 L388.30,808.80 L390.20,799.20 L392.10,796.30 L393.50,787.70 L393.50,784.20 L394.60,778.00 L396.20,773.50 L397.70,767.30 L398.50,753.50 L399.70,741.20 L400.80,759.60 L401.80,741.20 L403.10,725.80 L403.80,738.00 L404.60,750.40 L405.40,736.50 L407.00,744.20 L408.50,738.00 L409.50,745.80 L410.80,765.80 L411.90,772.00 L412.30,768.80 L413.00,779.60 L413.50,790.00 L415.20,808.80 L417.10,824.20 L419.00,837.70 L421.00,843.50 L423.80,846.30 L427.70,846.30 L431.50,843.50 L435.40,841.20 L438.30,839.60 L441.20,841.20 L444.00,842.50 L446.90,845.40 L450.80,849.20 L454.60,850.20 L462.30,851.20 L470.00,851.60 L511.00,851.80" stroke="#000" stroke-width="1.55" fill="none" stroke-linejoin="round"/>
<line x1="28.20" y1="878.50" x2="28.20" y2="765.20" stroke="#000" stroke-width="1.8" stroke-linecap="butt"/>
<path d="M24.40,767.90 L28.20,757.20 L32.00,767.90 Z" fill="#000"/>
<line x1="27.30" y1="878.50" x2="143.60" y2="878.50" stroke="#000" stroke-width="1.8" stroke-linecap="butt"/>
<path d="M140.60,874.50 L151.60,878.50 L140.60,882.50 Z" fill="#000"/>
<line x1="200.10" y1="879.50" x2="200.10" y2="765.50" stroke="#000" stroke-width="1.8" stroke-linecap="butt"/>
<path d="M196.30,768.20 L200.10,757.50 L203.90,768.20 Z" fill="#000"/>
<line x1="199.60" y1="879.50" x2="482.00" y2="879.50" stroke="#000" stroke-width="1.8" stroke-linecap="butt"/>
<path d="M479.00,875.50 L490.00,879.50 L479.00,883.50 Z" fill="#000"/>
<text x="0" y="0" font-size="9" font-weight="bold" text-anchor="middle" textLength="28.7" lengthAdjust="spacingAndGlyphs" transform="translate(19.90,810.50) rotate(-90)">Counts</text>
<text x="81.10" y="889.10" font-size="9.6" font-weight="bold" textLength="23.4" lengthAdjust="spacingAndGlyphs">IL-7R</text>
<text x="345.30" y="888.60" font-size="9.2" font-weight="bold" textLength="34.5" lengthAdjust="spacingAndGlyphs">pSTAT5</text>
<text x="309.60" y="731.20" font-size="8.5" font-weight="bold" textLength="39.6" lengthAdjust="spacingAndGlyphs" fill="#1a1a1a">+ medium</text>
<text x="484.60" y="731.50" font-size="8.2" font-weight="bold" textLength="20.2" lengthAdjust="spacingAndGlyphs">+IL-7</text>
<line x1="270.20" y1="803.80" x2="320.70" y2="803.80" stroke="#000" stroke-width="1.5" stroke-linecap="butt"/>
<line x1="270.20" y1="800.30" x2="270.20" y2="807.30" stroke="#000" stroke-width="1.5" stroke-linecap="butt"/>
<line x1="320.70" y1="800.30" x2="320.70" y2="807.30" stroke="#000" stroke-width="1.5" stroke-linecap="butt"/>
<text x="295.00" y="800.60" font-size="6.6" font-weight="bold" text-anchor="middle" textLength="14" lengthAdjust="spacingAndGlyphs" fill="#222">0.86</text>
<line x1="425.60" y1="803.30" x2="476.90" y2="803.30" stroke="#000" stroke-width="1.5" stroke-linecap="butt"/>
<line x1="425.60" y1="799.80" x2="425.60" y2="806.80" stroke="#000" stroke-width="1.5" stroke-linecap="butt"/>
<line x1="476.90" y1="799.80" x2="476.90" y2="806.80" stroke="#000" stroke-width="1.5" stroke-linecap="butt"/>
<text x="450.40" y="799.30" font-size="6.6" font-weight="bold" text-anchor="middle" textLength="14" lengthAdjust="spacingAndGlyphs" fill="#222">4.73</text>
<text x="43.50" y="717.70" font-size="20" font-weight="bold">ii</text>
<text x="63.00" y="717.10" font-size="12.5" font-weight="bold" textLength="46" lengthAdjust="spacingAndGlyphs" font-style="italic">Gimap1</text>
<text x="108.60" y="709.00" font-size="9.6" font-weight="bold" textLength="17.4" lengthAdjust="spacingAndGlyphs" font-style="italic">fl/fl</text>
<text x="126.50" y="716.50" font-size="12.5" font-weight="bold" textLength="64.8" lengthAdjust="spacingAndGlyphs" font-style="italic">hCD2-iCre</text>
<line x1="195.10" y1="703.20" x2="200.90" y2="703.20" stroke="#000" stroke-width="1.5" stroke-linecap="butt"/>
<line x1="198.00" y1="700.10" x2="198.00" y2="706.40" stroke="#000" stroke-width="1.5" stroke-linecap="butt"/>
</g></svg>
</body></html>
